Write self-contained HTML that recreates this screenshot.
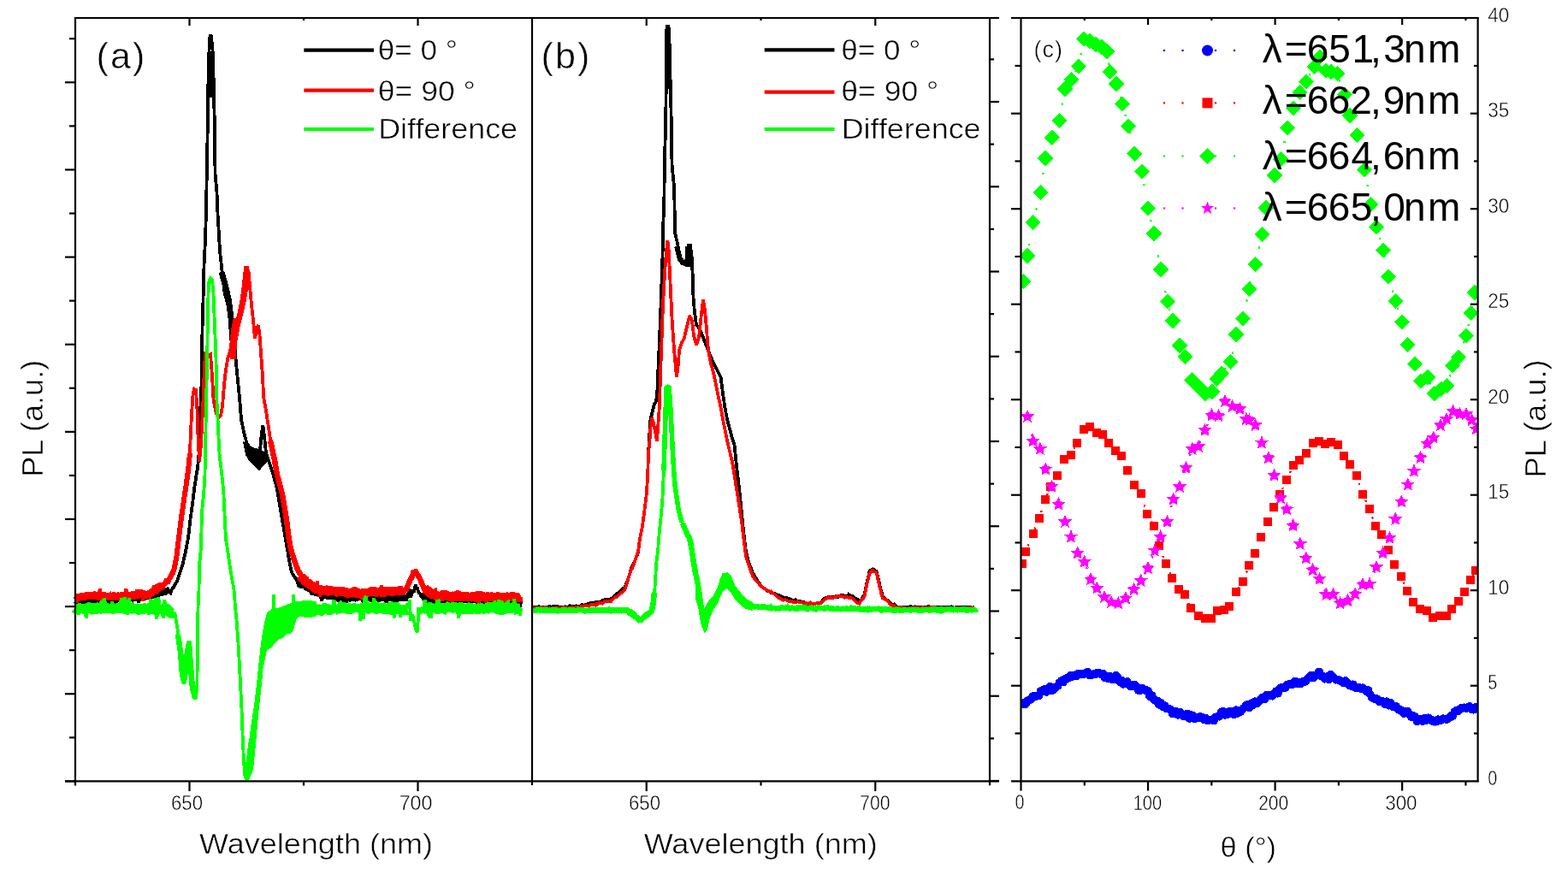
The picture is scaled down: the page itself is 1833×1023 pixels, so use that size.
<!DOCTYPE html>
<html><head><meta charset="utf-8"><title>PL spectra</title>
<style>html,body{margin:0;padding:0;background:#fff;overflow:hidden;} svg{display:block;}</style>
</head><body>
<svg width="1833" height="1023" viewBox="0 0 1833 1023">
<rect width="100%" height="100%" fill="#fff"/>
<defs><clipPath id="cc"><rect x="1194" y="21" width="533" height="892"/></clipPath></defs>
<g shape-rendering="crispEdges">
<polyline points="88.0,703.0 89.8,706.7 91.6,707.1 93.4,702.8 95.2,700.1 97.0,698.9 98.8,702.2 100.0,702.0 100.6,698.9 102.4,697.7 104.2,702.6 106.0,702.4 107.8,703.7 109.6,699.2 111.4,702.0 113.2,701.8 115.0,697.4 116.8,703.6 118.6,703.0 120.0,702.0 120.4,709.2 122.2,702.5 124.0,701.4 125.8,705.4 127.6,702.2 129.4,704.3 131.2,700.3 133.0,702.0 134.8,704.4 136.6,703.3 138.4,701.5 140.0,701.0 140.2,697.7 142.0,702.1 143.8,700.9 145.6,702.6 147.4,700.9 149.2,703.4 151.0,699.7 152.8,700.3 154.6,701.6 156.4,696.1 158.2,698.0 160.0,699.0 160.0,697.5 161.8,704.8 163.6,698.2 165.4,700.3 167.2,699.9 169.0,697.0 170.8,692.9 172.6,700.2 174.4,695.8 175.0,697.0 176.2,698.9 178.0,692.3 179.8,694.4 181.6,699.0 183.4,699.1 185.2,690.3 187.0,689.8 188.8,693.2 190.0,693.0 190.6,695.0 192.4,692.8 194.2,692.7 196.0,688.2 197.8,692.4 199.6,693.5 200.0,690.0 201.4,688.2 203.2,685.6 203.5,686.0 205.0,682.6 206.8,679.8 208.0,677.0 208.6,674.2 210.4,669.7 212.2,663.9 213.0,662.0 214.0,657.7 215.8,650.0 217.0,645.0 217.6,641.6 219.4,632.1 220.5,625.0 221.2,618.9 222.5,607.0 223.0,604.1 224.8,590.1 225.5,585.0 226.6,575.9 228.0,565.0 228.4,562.9 230.2,551.0 231.0,548.0 232.0,536.5 233.0,525.0 233.8,505.1 234.0,500.0 234.5,470.0 235.5,450.0 235.6,443.3 236.0,420.0 236.5,385.0 237.4,353.8 237.5,350.0 238.5,310.0 239.2,295.7 240.0,280.0 241.0,245.0 241.0,243.6 242.0,190.0 242.8,145.9 243.0,135.0 243.5,90.0 244.5,59.0 244.6,56.8 245.5,42.0 246.4,41.7 247.0,42.0 248.2,55.5 248.5,59.0 249.5,85.0 250.0,110.0 250.0,110.7 251.0,150.0 251.5,203.0 251.8,206.4 253.5,225.0 253.6,227.5 254.5,250.0 255.4,265.2 256.0,275.0 257.0,294.0 257.2,294.8 259.0,312.0 259.0,312.7 260.8,327.6 261.0,330.0 262.6,342.2 263.0,345.0 264.4,349.0 266.0,355.0 266.2,355.0 268.0,359.8 269.8,365.5 270.0,365.0 271.6,373.4 272.0,375.0 273.0,390.0 273.4,393.7 274.5,405.0 275.2,414.2 276.0,425.0 277.0,434.4 278.0,445.0 278.8,453.0 280.0,465.0 280.6,472.2 282.0,490.0 282.4,492.4 284.2,500.3 285.0,505.0 286.0,508.8 287.8,515.7 288.0,517.0 289.6,519.8 291.4,524.2 292.0,525.0 293.2,526.0 295.0,527.6 296.0,528.0 296.8,529.1 298.6,529.9 300.0,530.0 300.4,528.9 302.2,528.6 304.0,527.0 304.0,526.0 305.8,507.2 306.0,505.0 307.5,497.0 307.6,498.9 309.0,510.0 309.4,513.9 311.0,530.0 311.2,530.3 312.5,534.0 313.0,535.7 314.8,541.2 316.0,545.0 316.6,546.7 318.4,551.3 319.6,555.0 320.2,557.9 322.0,564.6 322.5,566.0 323.8,572.1 325.0,578.0 325.6,581.8 327.4,592.8 327.5,593.0 329.2,603.8 330.0,608.0 331.0,613.9 332.8,624.2 333.0,625.0 334.6,634.9 335.4,640.0 336.4,645.2 338.0,655.0 338.2,655.7 340.0,665.2 340.7,668.0 341.8,670.6 343.6,673.5 345.0,676.0 345.4,674.7 347.2,679.1 349.0,685.0 350.8,685.9 352.6,681.5 353.0,684.0 354.4,684.6 356.2,681.2 358.0,683.1 359.8,688.0 361.6,688.4 363.4,692.1 365.0,690.0 365.2,693.9 367.0,693.3 368.8,695.5 370.6,690.6 372.4,689.5 374.2,695.2 376.0,702.5 377.8,696.2 379.6,692.4 380.0,696.0 381.4,696.9 383.2,700.6 385.0,693.4 386.8,699.1 388.6,695.0 390.4,700.9 392.2,699.6 394.0,698.3 395.8,703.6 397.6,696.5 399.4,695.9 400.0,698.0 401.2,703.7 403.0,695.5 404.8,704.9 406.6,698.2 408.4,695.3 410.2,698.5 412.0,699.0 413.8,699.3 415.6,698.2 417.4,702.1 419.2,691.9 420.0,699.0 421.0,697.3 422.8,698.2 424.6,704.5 426.4,693.0 428.2,698.0 430.0,695.5 431.8,697.0 433.6,700.9 435.4,700.2 437.2,703.4 439.0,697.2 440.0,699.0 440.8,699.8 442.6,702.5 444.4,701.7 446.2,698.0 448.0,702.4 449.8,696.2 451.6,704.5 453.4,699.5 455.2,698.7 457.0,699.8 458.8,701.6 460.0,699.0 460.6,704.3 462.4,698.6 464.2,697.9 466.0,700.8 467.8,696.4 469.6,693.9 471.4,701.5 473.2,697.9 475.0,699.0 475.0,702.4 476.8,695.2 478.6,688.8 480.0,697.0 480.4,696.9 482.2,692.3 483.0,690.0 484.0,692.3 485.8,683.0 485.8,684.6 487.6,688.0 488.0,688.0 489.4,692.9 491.2,694.1 492.0,697.0 493.0,697.7 494.8,694.3 496.6,700.9 498.4,697.8 500.0,701.0 500.2,699.7 502.0,703.1 503.8,703.8 505.6,698.0 507.4,707.1 509.2,699.2 511.0,703.5 512.8,703.9 514.6,701.7 516.4,701.5 518.2,706.4 520.0,701.0 520.0,703.7 521.8,702.3 523.6,695.5 525.4,698.7 527.2,704.5 529.0,701.6 530.8,698.1 532.6,699.1 534.4,700.1 536.2,703.1 538.0,702.2 539.8,704.0 540.0,701.0 541.6,698.5 543.4,704.0 545.2,699.5 547.0,700.1 548.8,706.2 550.6,701.2 552.4,700.6 554.2,700.4 556.0,699.8 557.8,705.7 559.6,705.2 560.0,701.0 561.4,703.2 563.2,701.7 565.0,704.4 566.8,701.1 568.6,702.8 570.4,702.7 572.2,701.9 574.0,706.7 575.8,707.1 577.6,705.9 579.4,696.2 580.0,702.0 581.2,707.6 583.0,704.1 584.8,700.6 586.6,701.9 588.4,705.4 590.2,705.6 592.0,704.6 593.8,702.4 595.6,702.1 597.4,704.5 599.2,701.7 600.0,702.0 601.0,699.4 602.8,700.4 604.6,702.1 606.4,703.7 608.2,709.8 609.0,703.0" fill="none" stroke="#000000" stroke-width="3.8" stroke-linejoin="miter" stroke-miterlimit="2"/>
<polyline points="88.0,702.0 89.8,703.4 91.6,703.1 93.4,702.5 95.2,701.5 97.0,703.1 98.8,703.0 100.6,702.0 102.4,702.0 104.2,701.2 106.0,700.5 107.8,701.6 109.6,702.3 111.4,700.7 113.2,702.9 115.0,701.2 116.8,701.2 118.6,700.6 120.4,703.5 122.2,702.6 124.0,702.9 125.8,702.1 127.6,700.2 129.4,701.0 131.2,701.4 133.0,700.2 134.8,702.6 136.6,700.8 138.4,700.0 140.2,701.9 142.0,699.7 143.8,701.9 145.6,700.3 147.4,700.4 149.2,699.6 151.0,699.9 152.8,698.8 154.6,698.2 156.4,700.5 158.2,698.4 160.0,699.8 161.8,697.9 163.6,699.9 165.4,699.5 167.2,698.8 169.0,698.6 170.8,697.8 172.6,698.0 174.4,695.9 176.2,696.6 178.0,697.2 179.8,694.8 181.6,696.5 183.4,695.9 185.2,694.0 187.0,693.4 188.8,693.2 190.6,692.5 192.4,693.8 194.2,691.4 196.0,689.8 197.8,689.4" fill="none" stroke="#000000" stroke-width="7" stroke-linejoin="bevel"/>
<polyline points="348.0,680.4 349.8,679.7 351.6,681.2 353.4,685.7 355.2,684.2 357.0,684.9 358.8,687.4 360.6,687.3 362.4,689.9 364.2,688.8 366.0,691.8 367.8,690.6 369.6,692.1 371.4,693.9 373.2,693.8 375.0,695.3 376.8,695.3 378.6,694.1 380.4,697.2 382.2,696.5 384.0,695.8 385.8,695.7 387.6,697.8 389.4,697.2 391.2,698.4 393.0,698.1 394.8,698.9 396.6,697.9 398.4,698.4 400.2,698.3 402.0,697.4 403.8,699.6 405.6,697.7 407.4,699.2 409.2,699.8 411.0,699.0 412.8,697.6 414.6,699.7 416.4,699.3 418.2,698.0 420.0,697.6 421.8,699.1 423.6,697.6 425.4,700.3 427.2,699.0 429.0,699.1 430.8,698.7 432.6,699.5 434.4,700.2 436.2,698.4 438.0,698.6 439.8,699.2 441.6,698.4 443.4,699.3 445.2,699.1 447.0,698.8 448.8,699.5 450.6,699.1 452.4,697.8 454.2,700.5 456.0,698.6 457.8,698.8 459.6,698.7 461.4,700.3 463.2,700.4 465.0,699.0 466.8,698.7 468.6,697.8 470.4,700.2 472.2,698.0 474.0,699.1 475.8,698.2" fill="none" stroke="#000000" stroke-width="8" stroke-linejoin="bevel"/>
<polyline points="494.0,698.1 495.8,698.4 497.6,700.8 499.4,700.1 501.2,701.0 503.0,700.5 504.8,700.7 506.6,702.4 508.4,699.8 510.2,700.8 512.0,700.2 513.8,700.5 515.6,702.5 517.4,700.5 519.2,701.3 521.0,700.8 522.8,701.7 524.6,700.8 526.4,700.0 528.2,700.8 530.0,700.7 531.8,701.9 533.6,701.2 535.4,700.1 537.2,701.5 539.0,700.4 540.8,701.0 542.6,700.2 544.4,700.7 546.2,701.9 548.0,701.0 549.8,701.8 551.6,701.8 553.4,701.3 555.2,701.4 557.0,700.7 558.8,701.4 560.6,701.9 562.4,699.9 564.2,702.5 566.0,700.9 567.8,700.3 569.6,700.4 571.4,701.1 573.2,700.4 575.0,701.4 576.8,701.6 578.6,702.4 580.4,701.9 582.2,703.3 584.0,702.5 585.8,701.5 587.6,703.1 589.4,702.6 591.2,703.4 593.0,702.7 594.8,703.4 596.6,701.1 598.4,701.3 600.2,703.4 602.0,700.8 603.8,703.7 605.6,703.9 607.4,701.7" fill="none" stroke="#000000" stroke-width="8" stroke-linejoin="bevel"/>
<polyline points="246.5,60.0 246.5,114.0" fill="none" stroke="#000000" stroke-width="8" stroke-linejoin="round" stroke-linecap="butt"/>
<polyline points="259.0,318.0 264.0,336.0 267.5,352.0 270.0,372.0 272.0,398.0" fill="none" stroke="#000000" stroke-width="7" stroke-linejoin="round" stroke-linecap="butt"/>
<polygon points="284,516 290,520 298,524 304,525 309,528 313,540 307,545 303,551 298,546 292,540 287,532" fill="#000"/>
<polyline points="88.0,698.0 89.8,705.0 91.6,695.9 93.4,699.0 95.2,698.2 97.0,700.2 98.8,693.4 100.6,696.4 102.4,695.3 104.2,694.2 106.0,694.9 107.8,695.8 109.6,696.5 111.4,694.5 113.2,698.5 115.0,695.5 116.8,688.3 118.6,700.6 120.0,697.0 120.4,695.8 122.2,694.8 124.0,697.8 125.8,697.7 127.6,697.2 129.4,694.4 131.2,697.6 133.0,692.3 134.8,701.4 136.6,693.2 138.4,696.4 140.2,697.1 142.0,697.7 143.8,696.3 145.6,698.5 147.4,688.2 149.2,696.3 150.0,697.0 151.0,696.0 152.8,695.1 154.6,700.9 156.4,693.1 158.2,695.7 160.0,689.6 161.8,696.5 163.6,690.6 165.4,690.6 167.2,702.4 169.0,697.2 170.8,694.9 172.6,695.3 174.4,690.3 175.0,695.0 176.2,690.5 178.0,693.7 179.8,684.6 181.6,690.6 183.4,683.1 185.2,687.5 187.0,682.4 188.8,689.9 190.0,684.0 190.6,686.5 192.4,681.3 194.2,676.6 196.0,679.5 197.0,682.0 197.8,679.8 199.6,673.4 201.4,673.3 203.2,670.1 204.0,668.0 205.0,661.9 206.8,650.9 207.0,650.0 208.6,636.6 210.4,620.6 210.5,620.0 212.2,602.6 212.5,599.0 214.0,592.2 215.5,586.0 215.8,584.4 217.6,569.0 218.0,566.0 219.4,557.4 221.0,549.0 221.2,545.0 222.0,529.0 223.0,505.0 223.0,504.6 224.5,477.0 224.8,471.8 225.6,460.0 226.6,456.3 227.0,455.0 228.4,456.0 229.0,456.0 230.2,473.9 230.5,480.0 231.5,510.0 232.0,519.9 233.0,540.0 233.8,531.8 235.0,520.0 235.6,507.8 237.0,480.0 237.4,469.7 238.5,440.0 239.2,425.7 240.0,411.0 241.0,412.6 242.8,414.5 243.0,415.0 244.6,414.5 246.0,414.0 246.4,419.0 248.0,440.0 248.2,443.3 249.5,467.0 250.0,469.2 251.8,479.1 252.0,480.0 253.6,485.4 255.0,488.0 255.4,488.3 257.2,486.9 258.0,486.0 259.0,480.8 260.0,475.0 260.8,464.7 262.0,450.0 262.6,444.9 264.0,432.0 264.4,430.7 266.0,420.0 266.2,418.6 268.0,414.0 268.0,414.4 269.8,406.4 270.0,405.0 271.6,389.1 272.0,385.0 273.4,378.6 274.7,372.0 275.2,375.0 276.0,378.0 277.0,378.0 278.5,375.0 278.8,373.9 280.6,363.3 281.0,360.0 282.4,351.7 283.0,348.0 284.2,337.6 285.0,330.0 286.0,321.6 287.0,313.0 287.8,313.1 289.0,313.0 289.6,314.8 291.0,320.0 291.4,325.7 292.5,340.0 293.2,348.2 294.0,356.0 295.0,365.4 296.0,375.0 296.8,383.5 298.0,396.0 298.6,393.0 300.0,385.0 300.4,384.0 302.0,380.0 302.2,382.1 303.5,392.0 304.0,398.8 305.0,412.0 305.8,422.5 307.0,440.0 307.6,453.2 308.0,463.0 309.4,471.3 311.0,480.0 311.2,481.6 313.0,493.7 314.5,503.0 314.8,505.2 316.6,517.4 317.0,520.0 318.4,525.4 320.2,535.2 321.0,538.0 322.0,543.1 323.8,554.4 324.0,555.0 325.6,560.2 327.0,566.0 327.4,567.2 329.2,574.9 330.0,578.0 331.0,583.4 332.8,593.5 333.0,595.0 334.6,606.4 335.5,612.0 336.4,619.6 337.5,628.0 338.2,632.1 340.0,642.0 340.0,641.8 341.8,647.4 343.6,653.4 344.0,655.0 345.4,657.2 347.2,663.6 348.0,666.0 349.0,669.9 350.8,670.1 352.6,671.2 354.0,676.0 354.4,674.4 356.2,682.0 358.0,680.4 359.8,682.5 361.6,684.4 362.0,684.0 363.4,686.5 365.2,686.0 367.0,690.0 368.8,689.8 370.0,688.0 370.6,679.5 372.4,688.0 374.2,697.6 376.0,685.2 377.8,689.8 379.6,693.0 381.0,690.0 381.4,690.0 383.2,694.3 385.0,686.6 386.8,686.8 388.6,690.2 390.4,688.7 392.2,687.9 394.0,693.1 395.8,692.4 397.6,691.8 399.4,690.7 400.0,692.0 401.2,692.9 403.0,691.8 404.8,690.0 406.6,693.9 408.4,693.5 410.2,692.8 412.0,694.7 413.8,689.3 415.6,692.3 417.4,691.3 419.2,697.0 420.0,693.0 421.0,694.5 422.8,699.3 424.6,697.5 426.4,691.6 428.2,689.3 430.0,694.0 431.8,691.6 433.6,691.8 435.4,689.0 437.2,694.0 439.0,692.6 440.0,692.0 440.8,693.2 442.6,692.8 444.4,689.0 446.2,684.9 448.0,690.8 449.8,689.6 451.6,689.8 453.4,694.2 455.2,690.9 457.0,695.7 458.8,691.6 460.0,691.0 460.6,693.1 462.4,692.5 464.2,693.4 466.0,687.2 467.8,694.3 469.6,691.3 471.4,688.0 472.0,691.0 473.2,691.4 475.0,688.3 476.0,686.0 476.8,687.9 478.6,681.7 480.0,676.0 480.4,676.3 482.2,666.9 484.0,673.5 485.8,665.0 485.8,669.5 487.6,671.6 489.4,675.0 490.0,675.0 491.2,681.3 493.0,679.0 494.8,687.7 495.0,686.0 496.6,688.0 498.4,687.0 500.0,692.0 500.2,693.2 502.0,694.3 503.8,699.4 505.0,695.0 505.6,697.9 507.4,690.5 509.2,689.6 511.0,695.6 512.8,695.4 514.6,693.4 516.4,692.1 518.2,696.2 520.0,697.0 520.0,693.5 521.8,694.9 523.6,699.6 525.4,697.7 527.2,694.7 529.0,693.6 530.8,696.4 532.6,702.2 534.4,695.5 536.2,702.2 538.0,694.6 539.8,696.4 540.0,697.0 541.6,699.2 543.4,694.8 545.2,697.4 547.0,693.3 548.8,699.4 550.6,701.0 552.4,695.7 554.2,698.3 556.0,696.6 557.8,691.4 559.6,706.3 560.0,698.0 561.4,699.9 563.2,700.5 565.0,699.2 566.8,698.5 568.6,705.2 570.4,692.5 572.2,697.1 574.0,696.7 575.8,697.4 577.6,700.1 579.4,695.8 580.0,698.0 581.2,694.0 583.0,694.6 584.8,699.4 586.6,700.9 588.4,700.4 590.2,702.8 592.0,696.4 593.8,701.0 595.6,700.1 597.4,697.5 599.2,695.7 600.0,698.0 601.0,700.7 602.8,695.9 604.6,697.1 606.4,695.1 608.2,703.3 609.0,698.0" fill="none" stroke="#ff0000" stroke-width="3.8" stroke-linejoin="miter" stroke-miterlimit="2"/>
<polyline points="88.0,699.4 89.8,699.4 91.6,699.1 93.4,696.5 95.2,698.1 97.0,697.5 98.8,697.8 100.6,696.4 102.4,696.6 104.2,697.3 106.0,696.5 107.8,697.2 109.6,695.8 111.4,695.9 113.2,697.9 115.0,696.9 116.8,697.1 118.6,697.8 120.4,696.5 122.2,695.6 124.0,697.9 125.8,697.3 127.6,697.5 129.4,697.4 131.2,698.5 133.0,696.6 134.8,697.8 136.6,696.6 138.4,697.2 140.2,697.5 142.0,696.4 143.8,695.7 145.6,696.9 147.4,697.7 149.2,697.3 151.0,696.8 152.8,697.2 154.6,695.6 156.4,695.5 158.2,695.8 160.0,697.2 161.8,695.1 163.6,694.7 165.4,694.5 167.2,694.1 169.0,694.8 170.8,695.6 172.6,696.2 174.4,694.5 176.2,693.7 178.0,692.1 179.8,690.9 181.6,691.0 183.4,689.0 185.2,686.7 187.0,684.9 188.8,685.8 190.6,684.5" fill="none" stroke="#ff0000" stroke-width="9" stroke-linejoin="bevel"/>
<polyline points="352.0,673.3 353.8,676.8 355.6,676.6 357.4,681.0 359.2,680.2 361.0,683.5 362.8,683.1 364.6,686.1 366.4,685.1 368.2,687.8 370.0,688.7 371.8,689.2 373.6,688.5 375.4,690.2 377.2,690.9 379.0,688.4 380.8,690.0 382.6,691.6 384.4,691.1 386.2,690.4 388.0,690.1 389.8,692.4 391.6,689.8 393.4,692.1 395.2,692.6 397.0,690.6 398.8,691.3 400.6,691.4 402.4,692.3 404.2,691.8 406.0,693.6 407.8,693.7 409.6,691.9 411.4,693.8 413.2,691.3 415.0,691.5 416.8,693.4 418.6,693.9 420.4,694.0 422.2,694.5 424.0,694.0 425.8,692.0 427.6,693.4 429.4,693.9 431.2,691.1 433.0,692.3 434.8,691.2 436.6,691.0 438.4,692.0 440.2,692.5 442.0,693.4 443.8,690.6 445.6,691.7 447.4,693.2 449.2,692.4 451.0,691.6 452.8,690.5 454.6,691.7 456.4,690.4 458.2,691.6 460.0,691.5 461.8,690.7 463.6,691.9 465.4,690.7 467.2,690.9 469.0,692.1 470.8,690.2 472.6,689.2" fill="none" stroke="#ff0000" stroke-width="11" stroke-linejoin="bevel"/>
<polyline points="497.0,688.5 498.8,689.9 500.6,690.9 502.4,693.9 504.2,693.6 506.0,694.4 507.8,695.0 509.6,696.1 511.4,697.4 513.2,696.0 515.0,697.9 516.8,698.1 518.6,696.0 520.4,695.6 522.2,695.9 524.0,698.1 525.8,697.3 527.6,698.3 529.4,698.5 531.2,697.5 533.0,697.1 534.8,695.6 536.6,695.5 538.4,698.0 540.2,697.6 542.0,697.9 543.8,697.4 545.6,697.8 547.4,697.8 549.2,698.7 551.0,696.3 552.8,697.6 554.6,697.1 556.4,698.9 558.2,699.1 560.0,697.2 561.8,696.7 563.6,697.2 565.4,697.4 567.2,698.9 569.0,697.7 570.8,698.8 572.6,697.4 574.4,698.1 576.2,697.0 578.0,698.5 579.8,698.0 581.6,699.2 583.4,699.4 585.2,698.1 587.0,696.6 588.8,699.4 590.6,699.4 592.4,697.9 594.2,698.0 596.0,699.4 597.8,697.2 599.6,697.2 601.4,698.6 603.2,698.6 605.0,698.6 606.8,699.0 608.6,698.0" fill="none" stroke="#ff0000" stroke-width="11" stroke-linejoin="bevel"/>
<polyline points="474.0,691.0 480.0,677.0 485.8,668.0 491.0,677.0 497.0,691.0" fill="none" stroke="#ff0000" stroke-width="6.5" stroke-linejoin="round" stroke-linecap="butt"/>
<polyline points="287.5,318.0 287.0,335.0 284.5,350.0 281.0,366.0 277.0,382.0 274.0,398.0 272.0,420.0" fill="none" stroke="#ff0000" stroke-width="7" stroke-linejoin="round" stroke-linecap="butt"/>
<polyline points="191.0,684.0 198.5,676.0 203.5,666.0 206.5,650.0 209.5,625.0 212.0,605.0 214.5,588.0 217.5,568.0 220.0,550.0 222.0,530.0" fill="none" stroke="#ff0000" stroke-width="6" stroke-linejoin="round" stroke-linecap="butt"/>
<polyline points="316.0,515.0 321.0,538.0 324.0,555.0 327.0,566.0 330.0,578.0 333.0,595.0 335.5,612.0 337.5,628.0 340.0,642.0 344.0,655.0 348.0,666.0 354.0,676.0" fill="none" stroke="#ff0000" stroke-width="6.5" stroke-linejoin="round" stroke-linecap="butt"/>
<polyline points="208.0,742.0 211.0,762.0 213.0,788.0 215.0,797.0 217.0,782.0 219.0,762.0 221.0,752.0 223.0,780.0 225.0,805.0 228.0,815.0" fill="none" stroke="#00ff00" stroke-width="6.5" stroke-linejoin="round" stroke-linecap="butt"/>
<polyline points="88.0,711.0 89.8,711.6 91.6,718.6 93.4,705.4 95.2,717.0 97.0,709.4 98.8,709.4 100.6,722.5 102.4,712.0 104.2,710.7 106.0,715.4 107.8,717.8 109.6,710.8 111.4,714.6 113.2,705.1 115.0,708.8 116.8,708.3 118.6,702.9 120.0,711.0 120.4,701.9 122.2,701.2 124.0,709.7 125.8,710.2 127.6,709.3 129.4,711.7 131.2,703.3 133.0,711.0 134.8,712.9 136.6,716.1 138.4,706.5 140.2,709.3 142.0,699.5 143.8,708.7 145.6,698.6 147.4,703.3 149.2,718.6 150.0,712.0 151.0,698.7 152.8,716.8 154.6,714.0 156.4,710.1 158.2,714.8 160.0,715.2 161.8,718.3 163.6,710.6 165.4,708.4 167.2,708.3 169.0,706.0 170.8,711.7 172.6,707.2 174.4,718.5 176.2,700.7 178.0,705.4 179.8,706.2 180.0,712.0 181.6,699.4 183.4,723.7 185.2,697.8 187.0,710.8 188.8,709.4 190.6,722.7 192.4,700.8 194.2,719.4 195.0,713.0 196.0,709.1 197.8,713.5 199.6,711.3 201.4,716.7 203.2,716.6 204.6,718.0 205.0,720.3 206.8,731.1 208.0,738.0 208.6,743.4 210.4,754.3 211.0,760.0 212.2,775.8 213.0,785.0 214.0,792.0 215.0,798.0 215.8,790.5 217.0,780.0 217.6,774.2 219.0,760.0 219.4,755.7 220.0,750.0 221.2,765.9 222.0,775.0 223.0,787.6 224.0,800.0 224.8,805.9 226.0,815.0 226.6,815.3 228.4,816.5 229.0,817.0 230.2,803.3 230.5,800.0 231.0,740.0 231.5,710.0 232.0,699.5 232.5,690.0 233.0,660.0 233.8,653.1 235.0,640.0 235.6,614.9 236.0,600.0 237.4,584.4 238.0,580.0 239.2,559.9 239.5,555.0 240.5,500.0 241.0,474.9 241.5,450.0 242.5,400.0 242.8,376.2 243.0,360.0 244.0,330.0 244.6,328.4 246.0,325.0 246.4,325.3 248.0,327.0 248.2,329.3 249.5,343.0 250.0,355.9 251.0,380.0 251.8,401.1 252.5,420.0 253.5,470.0 253.6,471.8 255.0,500.0 255.4,509.1 256.5,530.0 257.2,536.6 258.5,548.0 259.0,551.9 260.8,569.5 261.0,570.0 262.5,600.0 262.6,602.4 264.0,630.0 264.4,632.3 266.2,644.0 267.0,650.0 268.0,656.8 269.8,668.2 270.0,670.0 271.6,678.6 273.4,688.7 273.5,690.0 275.0,710.0 275.2,711.7 277.0,730.0 277.0,730.6 278.8,756.8 279.0,760.0 280.5,790.0 280.6,791.2 282.4,828.4 282.5,830.0 284.0,870.0 284.2,873.5 286.0,905.0 286.0,905.5 287.5,910.0 287.8,907.7 289.0,895.0 289.6,889.9 291.4,874.9 292.0,870.0 293.2,864.0 295.0,855.0 295.0,854.4 296.8,846.4 298.0,840.0 298.6,843.0 300.4,828.8 302.0,820.0 302.2,817.0 304.0,798.9 305.0,790.0 305.8,778.6 307.0,770.0 307.6,762.5 309.4,752.2 310.0,750.0 311.2,743.4 313.0,740.9 314.8,731.5 315.0,738.0 316.6,737.3 318.4,733.4 320.2,725.5 322.0,728.0 322.0,717.9 323.8,726.2 325.6,729.3 327.4,719.4 329.2,718.7 330.0,720.0 331.0,717.1 332.8,721.8 334.6,714.1 336.4,721.8 338.2,715.4 340.0,716.0 340.0,720.1 341.8,715.6 343.6,713.9 345.4,707.9 347.2,710.8 349.0,712.2 350.0,713.0 350.8,715.9 352.6,714.4 354.4,708.6 356.2,715.3 358.0,718.7 359.8,711.8 361.6,710.0 363.4,710.2 365.2,717.4 367.0,715.7 368.8,706.7 370.6,714.6 372.4,709.3 374.2,707.6 376.0,719.6 377.8,717.0 379.6,707.6 380.0,712.0 381.4,712.4 383.2,715.0 385.0,708.0 386.8,711.1 388.6,715.8 390.4,700.9 392.2,713.7 394.0,716.1 395.8,714.7 397.6,703.4 399.4,713.4 401.2,706.2 403.0,714.9 404.8,715.0 406.6,712.6 408.4,706.7 410.2,707.7 412.0,716.4 413.8,705.7 415.6,714.1 417.4,714.2 419.2,709.3 420.0,711.0 421.0,725.5 422.8,711.4 424.6,724.0 426.4,698.8 428.2,697.4 430.0,716.9 431.8,714.8 433.6,709.1 435.4,710.7 437.2,699.5 439.0,707.2 440.8,704.7 442.6,709.7 444.4,716.4 446.2,711.3 448.0,713.2 449.8,706.8 451.6,708.4 453.4,711.7 455.2,709.3 457.0,718.7 458.8,705.7 460.0,711.0 460.6,722.5 462.4,705.2 464.2,717.6 466.0,706.7 467.8,721.4 469.6,712.4 471.4,714.0 473.2,716.2 475.0,708.0 476.8,705.6 478.0,712.0 478.6,701.2 480.4,725.4 482.0,722.0 482.2,718.5 484.0,725.3 485.8,735.0 485.8,734.8 487.6,739.7 489.0,722.0 489.4,710.5 491.2,718.0 493.0,712.0 493.0,709.6 494.8,715.2 496.6,701.0 498.4,709.4 500.2,716.8 502.0,721.1 503.8,721.3 505.6,706.4 507.4,711.8 509.2,710.7 511.0,703.0 512.8,702.6 514.6,715.8 516.4,712.6 518.2,710.2 520.0,711.0 520.0,718.4 521.8,704.9 523.6,714.2 525.4,711.1 527.2,710.6 529.0,714.0 530.8,712.1 532.6,712.6 534.4,712.6 536.2,722.7 538.0,709.1 539.8,717.1 541.6,714.7 543.4,708.9 545.2,715.8 547.0,705.8 548.8,718.0 550.6,706.1 552.4,708.0 554.2,713.0 556.0,716.0 557.8,716.5 559.6,716.4 560.0,711.0 561.4,709.7 563.2,705.2 565.0,714.3 566.8,712.8 568.6,705.2 570.4,716.9 572.2,712.2 574.0,705.2 575.8,713.7 577.6,703.0 579.4,705.7 581.2,713.4 583.0,701.6 584.8,711.2 586.6,702.8 588.4,715.5 590.2,706.6 592.0,712.1 593.8,701.9 595.6,708.9 597.4,716.7 599.2,713.8 601.0,699.9 602.8,716.6 604.6,716.4 606.4,708.7 608.2,719.6 609.0,711.0" fill="none" stroke="#00ff00" stroke-width="3.8" stroke-linejoin="miter" stroke-miterlimit="2"/>
<polyline points="88.0,710.6 89.8,712.5 91.6,712.2 93.4,710.0 95.2,712.3 97.0,711.5 98.8,709.4 100.6,712.6 102.4,710.1 104.2,710.3 106.0,710.7 107.8,711.3 109.6,709.6 111.4,711.7 113.2,712.2 115.0,711.0 116.8,712.1 118.6,711.4 120.4,712.2 122.2,709.9 124.0,710.6 125.8,711.1 127.6,709.8 129.4,713.0 131.2,711.9 133.0,710.0 134.8,711.8 136.6,711.2 138.4,710.5 140.2,710.5 142.0,711.6 143.8,710.2 145.6,712.1 147.4,712.0 149.2,710.6 151.0,713.4 152.8,710.3 154.6,710.8 156.4,713.1 158.2,711.0 160.0,711.7 161.8,712.2 163.6,711.8 165.4,712.0 167.2,712.0 169.0,711.9 170.8,710.4 172.6,713.1 174.4,711.2 176.2,710.4 178.0,711.7 179.8,713.1 181.6,712.6 183.4,712.1 185.2,712.3 187.0,711.5 188.8,713.0 190.6,712.2 192.4,711.3 194.2,711.6 196.0,712.1 197.8,715.1 199.6,716.8 201.4,717.3 203.2,716.3" fill="none" stroke="#00ff00" stroke-width="12" stroke-linejoin="bevel"/>
<polyline points="345.0,715.4 346.8,712.9 348.6,712.4 350.4,713.3 352.2,711.3 354.0,713.9 355.8,713.8 357.6,711.1 359.4,713.3 361.2,712.6 363.0,713.1 364.8,714.1 366.6,714.2 368.4,712.1 370.2,713.6 372.0,713.3 373.8,713.9 375.6,710.5 377.4,713.7 379.2,711.0 381.0,710.6 382.8,712.3 384.6,713.1 386.4,713.5 388.2,711.3 390.0,712.9 391.8,710.0 393.6,713.3 395.4,710.9 397.2,711.7 399.0,710.2 400.8,709.8 402.6,709.7 404.4,711.8 406.2,711.6 408.0,712.4 409.8,712.5 411.6,710.9 413.4,712.4 415.2,710.0 417.0,712.4 418.8,710.1 420.6,712.6 422.4,710.6 424.2,710.7 426.0,711.1 427.8,709.4 429.6,709.5 431.4,711.2 433.2,711.8 435.0,709.4 436.8,710.7 438.6,710.5 440.4,712.0 442.2,712.8 444.0,709.5 445.8,711.2 447.6,709.6 449.4,712.0 451.2,712.6 453.0,711.7 454.8,711.3 456.6,709.3 458.4,709.5 460.2,710.1 462.0,709.6 463.8,709.9 465.6,713.0 467.4,710.9 469.2,713.0 471.0,712.6 472.8,712.7 474.6,713.3 476.4,712.6" fill="none" stroke="#00ff00" stroke-width="12" stroke-linejoin="bevel"/>
<polygon points="286,912 290,880 293,850 297,825 300,800 303,770 306,745 309,728 312,716 318,712 325,711 330,709 340,705 346,703 360,702 370,703 370,721 360,722 350,721 346.5,724 343,737 340,741 336,741 330,746 325,748 321,752 318,757 312,760 309,775 306,790 303,825 299,870 296,900 291,912" fill="#00ff00"/>
<polyline points="320.0,695.0 320.0,720.0" fill="none" stroke="#00ff00" stroke-width="3.8" stroke-linejoin="round" stroke-linecap="butt"/>
<polyline points="343.0,695.0 343.0,715.0" fill="none" stroke="#00ff00" stroke-width="3.8" stroke-linejoin="round" stroke-linecap="butt"/>
<polyline points="494.0,710.2 495.8,710.5 497.6,711.4 499.4,712.4 501.2,710.4 503.0,710.2 504.8,710.6 506.6,712.4 508.4,710.2 510.2,712.2 512.0,711.9 513.8,709.9 515.6,711.3 517.4,710.9 519.2,710.7 521.0,712.8 522.8,709.5 524.6,709.3 526.4,712.6 528.2,710.7 530.0,709.9 531.8,710.4 533.6,710.5 535.4,712.6 537.2,710.0 539.0,710.0 540.8,711.3 542.6,711.2 544.4,712.6 546.2,712.2 548.0,710.5 549.8,709.9 551.6,712.2 553.4,712.8 555.2,709.3 557.0,711.8 558.8,712.3 560.6,711.5 562.4,710.0 564.2,712.1 566.0,711.8 567.8,709.9 569.6,711.5 571.4,710.0 573.2,709.3 575.0,710.4 576.8,710.4 578.6,710.6 580.4,711.5 582.2,712.2 584.0,712.7 585.8,712.7 587.6,712.8 589.4,712.0 591.2,710.3 593.0,709.8 594.8,711.4 596.6,711.2 598.4,711.6 600.2,709.5 602.0,709.9 603.8,712.5 605.6,711.4 607.4,711.7" fill="none" stroke="#00ff00" stroke-width="12" stroke-linejoin="bevel"/>
<polyline points="623.0,709.6 625.4,709.6 627.8,709.8 630.2,709.3 632.6,709.7 635.0,710.0 637.4,709.7 639.8,710.4 642.2,709.0 644.6,709.5 647.0,709.1 649.4,709.0 651.8,709.3 654.2,709.6 656.6,709.6 659.0,709.7 660.0,709.4 661.4,710.6 663.8,709.7 666.2,708.2 668.6,709.0 671.0,708.5 673.4,708.4 675.8,709.2 678.2,708.3 680.0,708.3 680.6,707.1 683.0,707.7 685.4,706.8 687.8,705.7 690.2,705.2 692.6,704.8 695.0,704.5 697.0,704.0 697.4,703.7 699.8,703.4 702.2,703.8 704.6,701.8 707.0,701.3 709.4,701.1 711.8,701.3 714.2,699.7 714.7,700.0 716.6,699.2 719.0,695.7 721.4,693.9 722.0,694.0 723.8,692.4 726.2,689.9 728.6,687.9 730.0,687.0 731.0,685.0 733.4,679.7 734.0,678.0 735.8,672.0 738.0,664.6 738.2,664.0 740.6,659.3 742.0,656.0 743.0,653.6 745.4,647.4 746.0,646.0 747.8,631.9 748.0,630.0 750.2,618.8 751.0,615.0 752.6,603.0 753.0,600.0 755.0,584.1 755.5,580.0 757.0,560.0 757.4,548.0 758.0,530.0 759.5,505.0 759.8,500.4 760.5,490.0 762.2,483.3 763.0,480.0 764.6,473.5 765.0,472.0 767.0,469.9 767.0,470.0 768.5,455.0 769.0,440.0 769.4,431.8 770.0,420.0 771.0,397.0 771.8,375.7 772.0,370.0 773.0,345.0 774.2,308.9 774.5,300.0 775.0,272.0 776.4,230.0 776.6,215.6 777.0,186.0 778.0,150.0 778.5,120.0 779.0,80.1 779.0,80.0 779.5,50.0 780.2,31.0 781.4,30.9 781.5,31.0 782.5,45.0 783.2,80.0 783.8,98.9 784.0,105.0 784.7,140.0 785.5,192.0 786.2,199.4 787.7,215.0 788.5,237.0 788.6,244.0 789.0,272.0 791.0,280.4 792.0,285.0 793.4,292.0 795.0,300.0 795.8,301.5 798.0,305.0 798.2,305.4 800.6,309.6 801.0,310.0 803.0,300.3 803.0,300.0 804.5,287.0 805.4,287.1 807.0,287.0 807.8,293.9 808.6,300.0 809.6,320.0 810.2,338.3 810.5,348.0 812.0,365.0 812.6,369.4 814.0,380.0 815.0,380.7 817.4,384.4 818.0,385.0 819.8,389.2 821.0,392.0 822.2,395.6 824.0,400.0 824.6,401.4 827.0,407.1 828.0,410.0 829.4,413.6 831.8,418.8 833.0,422.0 834.2,424.1 836.6,429.2 838.0,432.0 839.0,434.1 841.4,438.5 842.6,441.0 843.8,450.5 845.0,460.0 846.2,467.7 847.5,477.0 848.6,483.1 850.0,490.0 851.0,493.8 853.4,502.9 855.0,509.0 855.8,511.6 858.2,519.1 858.5,520.0 860.6,541.0 861.0,545.0 863.0,561.5 864.0,570.0 865.4,584.0 867.0,600.0 867.8,607.8 870.0,629.0 870.2,630.8 872.0,645.0 872.6,647.4 875.0,657.0 875.0,657.0 877.4,663.3 879.8,669.6 880.0,670.0 882.2,673.7 884.6,677.6 886.0,680.0 887.0,681.1 889.4,684.2 891.8,686.8 892.0,687.0 894.2,688.4 896.6,690.5 899.0,691.6 900.0,692.0 901.4,693.0 903.8,693.6 906.2,693.9 908.6,696.0 911.0,696.2 912.8,697.0 913.4,697.2 915.8,698.4 918.2,699.1 920.6,699.4 923.0,700.0 925.4,701.8 927.8,701.7 930.0,702.0 930.2,701.5 932.6,702.9 935.0,703.1 937.4,703.5 939.8,704.3 942.2,704.6 944.6,706.0 947.0,705.5 949.4,706.0 950.0,706.0 951.8,706.5 954.2,705.3 956.6,705.9 959.0,705.0 959.7,705.0 961.4,702.7 962.0,701.0 963.8,699.6 966.0,699.0 966.2,699.2 968.6,697.6 971.0,697.8 973.4,697.7 975.8,697.5 977.0,697.0 978.2,698.0 980.6,697.8 983.0,695.9 985.0,696.5 985.4,696.1 987.8,697.0 990.2,696.4 992.5,696.0 992.6,695.3 995.0,697.0 996.0,697.0 997.4,697.4 999.8,699.4 1000.0,700.0 1002.2,700.6 1004.6,702.6 1005.0,703.0 1007.0,701.4 1009.4,696.9 1010.6,695.0 1011.8,688.9 1014.0,678.0 1014.2,678.5 1016.4,668.0 1016.6,667.6 1019.0,666.3 1020.5,665.5 1021.4,665.9 1023.8,667.7 1024.6,668.0 1026.2,674.4 1028.0,682.0 1028.6,685.2 1031.0,694.0 1031.7,697.0 1033.4,698.9 1035.0,700.0 1035.8,700.8 1038.2,702.3 1040.6,704.3 1042.0,706.0 1043.0,706.5 1045.4,706.4 1047.8,708.9 1049.0,709.5 1050.2,709.6 1052.6,709.7 1055.0,709.6 1057.4,709.9 1059.8,709.6 1062.2,710.2 1064.6,709.0 1067.0,710.4 1069.4,709.5 1070.0,710.0 1071.8,710.3 1074.2,709.7 1076.6,709.8 1079.0,709.6 1081.4,710.7 1083.8,709.4 1086.2,709.3 1088.6,710.1 1091.0,710.1 1093.4,710.0 1095.8,709.5 1098.2,709.6 1100.0,710.0 1100.6,710.5 1103.0,709.4 1105.4,710.3 1107.8,710.4 1110.2,710.1 1112.6,709.3 1115.0,711.0 1117.4,710.1 1119.8,710.1 1122.2,709.8 1124.6,709.5 1127.0,709.9 1129.4,710.1 1131.8,709.5 1134.2,710.1 1136.6,710.6 1139.0,710.0" fill="none" stroke="#000000" stroke-width="3.8" stroke-linejoin="miter" stroke-miterlimit="2"/>
<polyline points="780.6,34.0 780.6,104.0" fill="none" stroke="#000000" stroke-width="6.5" stroke-linejoin="round" stroke-linecap="butt"/>
<polyline points="791.0,288.0 795.0,303.0 799.5,309.0" fill="none" stroke="#000000" stroke-width="6" stroke-linejoin="round" stroke-linecap="butt"/>
<polyline points="805.0,288.0 805.0,312.0" fill="none" stroke="#000000" stroke-width="8" stroke-linejoin="round" stroke-linecap="butt"/>
<polyline points="623.0,711.3 625.4,710.6 627.8,710.6 630.2,711.6 632.6,710.0 635.0,711.1 637.4,709.9 639.8,711.8 642.2,711.3 644.6,711.9 647.0,710.8 649.4,711.3 651.8,710.9 654.2,710.6 656.6,711.1 659.0,710.3 660.0,711.0 661.4,710.7 663.8,711.1 666.2,710.5 668.6,710.1 671.0,711.3 673.4,709.9 675.8,709.4 678.0,709.5 678.2,709.6 680.6,708.7 683.0,708.4 685.4,707.9 687.8,708.8 690.2,707.3 692.6,706.9 695.0,706.7 697.0,706.0 697.4,707.0 699.8,705.2 702.2,704.5 704.6,705.6 707.0,702.9 709.4,703.0 711.8,703.0 714.2,703.4 714.7,702.0 716.6,700.2 719.0,697.7 721.4,697.8 722.0,697.0 723.8,695.1 726.2,693.1 728.6,691.5 730.0,690.0 731.0,687.1 733.4,680.0 734.0,678.0 735.8,672.4 738.0,666.0 738.2,666.3 740.6,660.5 742.0,657.0 743.0,654.0 745.4,646.7 746.0,645.0 747.8,631.7 748.0,630.0 750.2,619.1 751.0,615.0 752.6,602.8 753.0,600.0 755.0,583.9 755.5,580.0 757.0,560.0 757.4,548.2 758.0,530.0 759.5,515.0 759.8,510.5 760.5,500.0 762.0,488.0 762.2,488.6 764.0,495.0 764.6,498.0 766.0,505.0 767.0,510.5 768.0,516.0 769.4,496.4 769.5,495.0 771.0,473.0 771.8,446.2 772.0,440.0 773.0,410.0 774.2,380.4 774.2,380.0 775.0,355.0 776.0,340.0 776.6,328.0 777.0,320.0 778.5,300.0 779.0,294.5 780.3,281.0 781.4,289.5 781.5,290.0 782.8,314.0 783.8,335.7 784.0,340.0 785.5,372.0 786.2,382.7 787.0,395.0 788.6,415.2 789.0,420.0 791.0,440.5 791.0,440.0 792.5,430.0 793.4,418.1 794.0,410.0 795.8,404.3 797.0,400.0 798.2,398.5 800.0,395.0 800.6,392.2 803.0,382.0 803.5,380.0 805.4,371.8 806.0,369.0 807.8,372.2 809.0,375.0 810.2,385.1 811.0,392.0 812.6,398.2 814.0,403.0 815.0,400.6 817.0,395.0 817.4,391.3 819.4,372.0 819.8,368.2 822.0,350.0 822.2,351.8 824.3,365.0 824.6,368.7 826.0,385.0 827.0,397.7 828.0,410.0 829.4,417.1 831.0,425.0 831.8,427.6 834.0,436.0 834.2,436.6 836.6,448.1 838.0,455.0 839.0,460.2 841.4,471.1 842.6,477.0 843.8,483.3 846.0,495.0 846.2,495.9 848.6,508.1 850.0,515.0 851.0,519.3 853.4,529.2 855.8,538.9 856.0,540.0 858.2,553.1 860.6,568.8 860.8,570.0 863.0,583.8 864.0,590.0 865.4,599.6 867.0,610.0 867.8,616.6 869.4,630.0 870.2,636.0 872.0,650.0 872.6,652.1 875.0,659.7 875.0,660.0 877.4,666.5 879.8,673.2 880.0,674.0 882.2,676.6 884.6,679.8 886.0,681.0 887.0,682.3 889.4,685.0 890.5,686.0 891.8,686.9 894.2,688.4 896.6,689.8 899.0,691.3 900.0,692.0 901.4,691.5 903.8,693.7 906.2,695.2 908.6,697.8 911.0,699.2 912.8,700.0 913.4,700.8 915.8,701.6 918.2,701.1 920.6,702.4 923.0,703.4 925.4,702.9 927.8,704.1 930.0,704.0 930.2,703.9 932.6,703.4 935.0,704.6 937.4,704.3 939.8,705.0 942.2,705.0 944.6,705.6 947.0,704.5 949.4,707.1 950.0,706.0 951.8,706.6 954.2,705.4 956.6,704.8 959.0,705.1 959.7,705.0 961.4,703.8 963.8,701.4 965.0,700.0 966.2,700.0 968.6,698.2 970.0,699.0 971.0,698.2 973.4,699.3 975.8,698.3 977.0,698.0 978.2,697.2 980.6,697.5 983.0,697.2 985.4,697.4 987.8,698.6 990.0,698.0 990.2,697.9 992.6,699.1 995.0,699.1 995.0,699.0 997.4,700.1 999.8,702.5 1000.0,703.0 1002.2,705.2 1004.6,704.4 1005.0,705.0 1007.0,701.6 1009.4,699.4 1010.6,697.0 1011.8,691.1 1013.0,685.0 1014.2,679.7 1016.4,670.0 1016.6,670.7 1019.0,667.1 1020.5,667.0 1021.4,667.9 1023.8,668.8 1024.6,670.0 1026.2,676.3 1028.0,685.0 1028.6,686.8 1031.0,697.0 1031.7,699.0 1033.4,700.0 1035.0,701.0 1035.8,700.7 1038.2,703.1 1040.6,706.7 1042.0,707.0 1043.0,708.1 1045.4,708.1 1047.8,711.3 1049.0,710.5 1050.2,710.3 1052.6,709.9 1055.0,710.6 1057.4,711.2 1059.8,711.7 1062.2,711.4 1064.6,710.6 1067.0,710.6 1069.4,710.2 1070.0,711.0 1071.8,711.0 1074.2,710.7 1076.6,711.1 1079.0,710.3 1081.4,710.7 1083.8,710.5 1086.2,710.3 1088.6,710.3 1091.0,710.4 1093.4,710.3 1095.8,711.3 1098.2,711.1 1100.0,711.0 1100.6,710.3 1103.0,711.3 1105.4,711.2 1107.8,711.8 1110.2,710.9 1112.6,710.9 1115.0,710.6 1117.4,711.1 1119.8,711.3 1122.2,711.1 1124.6,710.9 1127.0,711.3 1129.4,711.1 1131.8,711.1 1134.2,710.5 1136.6,711.1 1139.0,711.0" fill="none" stroke="#ff0000" stroke-width="3.8" stroke-linejoin="miter" stroke-miterlimit="2"/>
<polyline points="623.0,713.5 625.4,714.1 627.8,711.3 630.2,712.6 632.6,713.6 635.0,715.3 637.4,713.5 639.8,711.5 642.2,713.9 644.6,712.0 647.0,715.0 649.4,713.2 651.8,715.7 654.2,713.3 656.6,712.3 659.0,711.7 660.0,713.5 661.4,713.1 663.8,714.0 666.2,714.9 668.6,713.8 671.0,712.6 673.4,714.1 675.8,711.8 678.2,714.1 680.6,712.6 683.0,715.3 685.4,714.7 687.8,713.9 690.2,712.3 692.6,714.2 695.0,713.9 697.4,712.8 699.8,712.7 700.0,713.5 702.2,715.1 704.6,713.1 707.0,714.1 709.4,715.3 711.8,711.9 714.2,715.9 716.6,715.0 719.0,713.0 721.4,712.7 723.8,712.4 726.2,715.0 728.6,710.8 731.0,715.1 733.4,714.2 733.4,714.0 735.8,714.6 738.2,716.3 740.0,718.0 740.6,718.2 743.0,720.7 744.0,722.0 745.4,724.5 747.8,724.8 748.0,726.0 750.2,725.1 752.0,722.0 752.6,722.6 755.0,718.7 756.0,718.0 757.4,718.1 759.8,715.6 760.4,716.0 762.2,711.9 763.0,710.0 764.6,699.2 764.6,699.0 766.0,680.0 767.0,660.9 767.0,660.0 769.0,645.0 769.4,640.0 771.0,620.0 771.8,611.9 773.0,600.0 774.2,585.6 774.5,582.0 775.5,560.0 776.5,540.0 776.6,535.9 777.5,500.0 778.5,470.0 779.0,451.5 779.0,452.0 781.4,452.8 782.0,452.0 783.5,470.0 783.8,475.7 784.5,490.0 785.5,510.0 786.2,523.7 786.5,530.0 788.0,555.0 788.6,560.7 790.0,575.0 791.0,582.0 793.0,595.0 793.4,597.8 795.8,606.8 797.0,610.0 798.2,612.8 800.6,617.4 802.0,620.0 803.0,622.4 805.4,627.7 807.0,632.0 807.8,637.5 809.0,645.0 810.2,654.0 811.0,660.0 812.6,668.7 813.8,673.6 815.0,679.6 817.0,690.0 817.4,692.6 819.0,705.0 819.8,710.2 821.0,720.0 822.2,728.2 823.0,735.0 824.6,731.3 825.0,730.0 827.0,718.2 828.0,712.0 829.4,709.0 831.8,704.7 832.0,705.0 834.2,704.0 836.0,703.0 836.6,701.6 839.0,697.1 840.0,695.0 841.4,689.7 843.8,680.4 844.0,680.0 846.2,674.3 848.0,671.0 848.6,672.3 851.0,677.2 851.4,678.0 853.4,682.5 855.0,686.0 855.8,687.1 858.2,689.0 860.0,690.0 860.6,690.7 863.0,694.7 864.7,697.0 865.4,696.8 867.8,700.8 870.0,703.0 870.2,703.1 872.6,705.2 875.0,706.8 877.4,707.6 878.8,709.0 879.8,709.0 882.2,710.7 884.6,708.9 887.0,709.9 889.4,709.3 891.8,710.9 894.2,710.8 896.6,709.7 899.0,709.2 900.0,711.0 901.4,708.3 903.8,712.0 906.2,710.5 908.6,710.2 911.0,710.4 913.4,709.9 915.8,711.8 918.2,711.8 920.6,708.3 923.0,711.0 925.4,711.1 927.8,710.6 930.2,711.1 932.6,713.0 935.0,711.4 937.4,712.5 939.8,712.2 942.2,709.2 944.6,713.2 947.0,711.3 949.4,710.7 950.0,711.0 951.8,712.1 954.2,713.8 956.6,710.2 959.0,710.4 961.4,711.7 963.8,709.1 966.2,710.0 968.6,711.4 971.0,712.3 973.4,712.1 975.8,712.6 978.2,712.9 980.6,711.1 983.0,711.2 985.4,711.3 987.8,711.4 990.2,713.2 992.6,712.9 995.0,709.4 997.4,712.6 999.8,710.7 1000.0,712.0 1002.2,710.7 1004.6,713.7 1007.0,713.8 1009.4,713.6 1011.8,713.1 1014.2,714.5 1016.6,710.9 1019.0,713.4 1021.4,711.6 1023.8,711.7 1026.2,710.5 1028.6,714.5 1031.0,714.8 1033.4,713.8 1035.8,712.0 1038.2,713.0 1040.6,711.5 1043.0,712.5 1045.4,714.8 1047.8,715.0 1050.0,713.0 1050.2,713.8 1052.6,714.0 1055.0,712.9 1057.4,713.5 1059.8,712.8 1062.2,713.6 1064.6,712.2 1067.0,714.3 1069.4,712.7 1071.8,713.3 1074.2,712.9 1076.6,714.9 1079.0,714.1 1081.4,712.0 1083.8,711.9 1086.2,713.7 1088.6,713.2 1091.0,712.7 1093.4,713.3 1095.8,715.1 1098.2,712.9 1100.0,713.0 1100.6,714.8 1103.0,712.4 1105.4,712.7 1107.8,713.4 1110.2,712.9 1112.6,712.4 1115.0,711.7 1117.4,712.6 1119.8,712.5 1122.2,713.0 1124.6,714.3 1127.0,713.7 1129.4,714.5 1131.8,713.3 1134.2,713.6 1136.6,713.8 1139.0,713.9 1141.4,714.3 1143.0,713.0" fill="none" stroke="#00ff00" stroke-width="3.8" stroke-linejoin="miter" stroke-miterlimit="2"/>
<polyline points="623.0,713.8 624.8,713.9 626.6,714.4 628.4,712.9 630.2,712.6 632.0,714.1 633.8,713.2 635.6,713.2 637.4,714.1 639.2,712.9 641.0,714.3 642.8,713.5 644.6,712.6 646.4,714.3 648.2,713.6 650.0,712.7 651.8,714.2 653.6,714.0 655.4,714.0 657.2,713.8 659.0,714.5 660.8,712.5 662.6,714.4 664.4,713.8 666.2,713.0 668.0,713.7 669.8,713.2 671.6,713.8 673.4,713.9 675.2,713.5 677.0,712.7 678.8,713.3 680.6,713.1 682.4,714.0 684.2,714.4 686.0,714.1 687.8,713.6 689.6,712.8 691.4,713.9 693.2,713.0 695.0,714.5 696.8,712.8 698.6,714.4 700.4,712.5 702.2,714.1 704.0,713.3 705.8,713.7 707.6,713.4 709.4,713.3 711.2,713.5 713.0,714.3 714.8,713.4 716.6,713.5 718.4,714.3 720.2,713.2 722.0,713.5 723.8,713.9 725.6,713.9 727.4,713.3 729.2,714.5 731.0,713.9 732.8,713.2 734.6,714.4 736.4,714.9 738.2,716.6 740.0,717.2 741.8,719.3 743.6,721.7 745.4,723.8 747.2,724.8 749.0,724.9 750.8,723.2 752.6,721.6 754.4,720.4 756.2,717.3 758.0,717.6 759.8,716.4 761.6,714.0" fill="none" stroke="#00ff00" stroke-width="6.5" stroke-linejoin="bevel"/>
<polyline points="872.0,703.6 873.8,704.9 875.6,707.0 877.4,707.4 879.2,708.3 881.0,709.1 882.8,709.2 884.6,709.0 886.4,709.5 888.2,710.6 890.0,709.3 891.8,709.6 893.6,709.5 895.4,710.0 897.2,709.9 899.0,711.9 900.8,710.6 902.6,712.0 904.4,710.3 906.2,711.8 908.0,711.0 909.8,711.4 911.6,711.3 913.4,710.5 915.2,710.5 917.0,711.4 918.8,710.3 920.6,710.0 922.4,711.5 924.2,711.3 926.0,710.5 927.8,711.0 929.6,711.8 931.4,710.6 933.2,710.2 935.0,710.8 936.8,710.3 938.6,710.7 940.4,710.1 942.2,711.5 944.0,711.6 945.8,710.7 947.6,710.8 949.4,710.5 951.2,711.9 953.0,711.8 954.8,711.4 956.6,710.5 958.4,710.5 960.2,711.7 962.0,710.6 963.8,711.7 965.6,711.2 967.4,710.4 969.2,710.8 971.0,712.2 972.8,711.1 974.6,711.8 976.4,712.1 978.2,711.4 980.0,711.6 981.8,712.4 983.6,712.1 985.4,711.7 987.2,711.8 989.0,711.7 990.8,711.7 992.6,712.2 994.4,711.4 996.2,712.7 998.0,711.5 999.8,711.5 1001.6,713.0 1003.4,711.1 1005.2,711.9 1007.0,712.2 1008.8,712.1 1010.6,712.9 1012.4,712.6 1014.2,712.3 1016.0,711.3 1017.8,713.3 1019.6,712.1 1021.4,712.1 1023.2,711.9 1025.0,711.9 1026.8,711.7 1028.6,711.8 1030.4,713.0 1032.2,712.2 1034.0,712.7 1035.8,713.0 1037.6,711.9 1039.4,713.3 1041.2,712.2 1043.0,713.5 1044.8,713.7 1046.6,712.8 1048.4,712.6 1050.2,713.0 1052.0,713.8 1053.8,714.0 1055.6,713.4 1057.4,712.8 1059.2,712.8 1061.0,713.4 1062.8,712.7 1064.6,713.6 1066.4,712.7 1068.2,713.2 1070.0,713.0 1071.8,713.1 1073.6,713.7 1075.4,713.8 1077.2,713.6 1079.0,713.3 1080.8,712.8 1082.6,712.8 1084.4,712.9 1086.2,713.7 1088.0,713.5 1089.8,712.2 1091.6,712.5 1093.4,712.1 1095.2,712.6 1097.0,713.7 1098.8,713.3 1100.6,712.0 1102.4,713.5 1104.2,713.2 1106.0,713.0 1107.8,712.1 1109.6,712.0 1111.4,712.1 1113.2,713.8 1115.0,712.8 1116.8,712.1 1118.6,713.6 1120.4,713.0 1122.2,712.7 1124.0,712.8 1125.8,712.4 1127.6,712.1 1129.4,713.6 1131.2,713.8 1133.0,712.7 1134.8,713.2 1136.6,713.7 1138.4,712.0 1140.2,714.0 1142.0,712.2" fill="none" stroke="#00ff00" stroke-width="6.5" stroke-linejoin="bevel"/>
<polyline points="798.0,612.1 799.5,615.3 801.0,619.0 802.5,622.4 804.0,625.9 805.5,628.0 807.0,633.3 808.5,641.5 810.0,651.9 811.5,661.2 813.0,669.7 814.5,676.2 816.0,684.2 817.5,694.1 819.0,705.8 820.5,717.0 822.0,726.3 823.5,732.4 825.0,729.3 826.5,721.2 828.0,713.0 829.5,710.3 831.0,708.1 832.5,705.0 834.0,704.4 835.5,702.6 837.0,700.4 838.5,697.1 840.0,695.1 841.5,689.7 843.0,684.0 844.5,678.6 846.0,675.3 847.5,671.4 849.0,674.0 850.5,676.4 852.0,680.1 853.5,683.6 855.0,685.3 856.5,686.1 858.0,687.7 859.5,690.8 861.0,692.4 862.5,693.4 864.0,696.8 865.5,697.4 867.0,700.7 868.5,700.1 870.0,703.7 871.5,705.5" fill="none" stroke="#00ff00" stroke-width="6.5" stroke-linejoin="bevel"/>
<polyline points="776.0,550.1 777.5,500.5 779.0,452.5 780.5,452.7 782.0,451.6 783.5,470.9 785.0,500.1 786.5,530.5 788.0,555.5 789.5,570.9 791.0,581.2 792.5,591.4 794.0,599.2 795.5,604.5 797.0,610.5" fill="none" stroke="#00ff00" stroke-width="5.5" stroke-linejoin="bevel"/>
<polyline points="735.0,714.5 736.5,717.3 738.0,718.2 739.5,719.0 741.0,719.9 742.5,721.6 744.0,720.5 745.5,723.9 747.0,724.2 748.5,726.2 750.0,723.8 751.5,722.7 753.0,721.1 754.5,719.7 756.0,719.0 757.5,718.8 759.0,716.2 760.5,716.7 762.0,713.5 763.5,706.2 765.0,692.4" fill="none" stroke="#00ff00" stroke-width="6.5" stroke-linejoin="bevel"/>
<polygon points="813,688 817,697 820,705 823,712 826,706 830,700 834,696 840,684 844,672 850,669 855,674 860,686 866,694 872,700 880,704 880,714 872,712 866,708 860,702 855,694 850,688 844,692 840,704 834,713 830,722 827,737 823,740 820,728 817,712 813,700" fill="#00ff00"/>
<g clip-path="url(#cc)">
<polyline points="1195.3,658.5 1199.4,644.7 1207.6,624.2 1215.0,605.7 1221.7,583.7 1228.0,569.0 1236.3,555.8 1244.3,537.4 1251.6,531.5 1259.0,517.7 1266.8,502.0 1274.0,498.7 1281.5,506.0 1288.7,508.0 1296.0,518.0 1304.0,527.0 1311.0,532.5 1318.0,550.0 1326.4,566.7 1333.7,577.2 1341.0,601.3 1349.0,615.4 1354.8,638.0 1363.0,659.4 1370.4,676.0 1377.7,689.3 1385.0,695.0 1392.3,711.3 1401.0,720.0 1408.5,723.0 1415.8,723.0 1423.0,714.2 1430.5,712.7 1437.0,709.2 1445.0,692.2 1452.5,680.0 1460.3,661.4 1467.0,646.7 1474.0,628.3 1481.7,610.0 1489.0,593.4 1496.3,577.8 1504.3,560.8 1511.6,544.0 1519.0,538.2 1526.8,530.3 1535.0,517.7 1541.5,516.2 1549.0,518.6 1556.0,516.8 1563.8,519.8 1570.8,533.3 1578.4,543.2 1585.5,555.8 1593.0,577.8 1601.0,595.4 1607.8,614.5 1614.8,625.3 1623.0,643.0 1630.4,660.0 1637.7,673.7 1645.0,690.7 1652.3,704.0 1659.7,712.0 1667.6,714.2 1675.2,721.5 1683.0,720.0 1690.5,720.0 1697.0,712.0 1704.5,702.5 1711.6,692.2 1719.2,677.5 1725.0,667.3" fill="none" stroke="#ff0000" stroke-width="2.2" stroke-dasharray="2.2 19"/>
<polyline points="1201.0,487.0 1207.6,515.7 1215.8,525.0 1222.3,548.5 1229.6,569.0 1237.5,589.6 1245.0,610.0 1252.0,627.7 1259.8,646.7 1267.7,657.0 1275.0,677.5 1282.4,687.8 1291.0,698.0 1299.0,704.0 1307.3,705.4 1316.0,699.5 1325.5,689.3 1333.7,679.0 1342.0,664.3 1350.0,643.8 1356.6,627.7 1364.5,610.0 1371.8,583.7 1379.0,569.0 1386.5,547.0 1393.8,525.0 1401.0,522.0 1408.5,503.0 1416.4,485.5 1424.6,486.3 1432.0,469.3 1440.7,475.2 1449.5,478.0 1456.9,490.0 1460.3,491.3 1467.6,497.2 1475.0,517.7 1482.8,535.3 1489.6,555.8 1497.0,582.2 1504.3,595.4 1511.6,614.5 1519.8,636.0 1526.8,652.6 1534.5,666.4 1542.4,677.0 1550.3,695.1 1558.5,695.1 1566.7,705.4 1575.5,702.5 1584.3,694.5 1593.0,683.4 1601.0,682.8 1609.0,662.9 1616.6,646.7 1624.5,629.0 1631.2,607.0 1638.3,586.6 1645.9,566.7 1653.0,550.8 1660.6,535.3 1668.5,518.6 1675.8,511.8 1684.0,497.2 1691.0,489.9 1698.7,481.0 1706.6,484.0 1714.0,484.0 1720.4,491.3 1725.7,501.6" fill="none" stroke="#ff00ff" stroke-width="2.2" stroke-dasharray="2.2 19"/>
<polyline points="1196.6,329.0 1201.0,299.0 1207.6,259.7 1216.4,225.0 1222.0,185.0 1229.6,160.7 1238.4,141.3 1245.0,104.0 1252.5,93.0 1261.0,77.5 1267.0,45.4 1274.0,48.0 1281.0,52.0 1288.0,55.0 1294.0,60.0 1297.8,84.0 1305.0,98.0 1312.0,121.5 1319.0,147.5 1326.4,179.6 1335.0,200.7 1341.8,243.4 1349.0,273.0 1357.0,315.0 1364.7,352.5 1371.0,375.0 1379.0,404.0 1385.8,417.0 1393.5,444.5 1402.5,453.5 1409.0,460.0 1417.0,458.0 1422.7,443.0 1428.0,436.6 1438.5,423.0 1445.0,391.0 1453.0,372.5 1460.5,337.7 1467.7,309.0 1475.5,274.3 1480.0,243.0 1490.0,205.0 1497.4,186.4 1504.8,149.7 1512.0,126.5 1519.4,108.2 1526.8,95.5 1536.5,77.7 1542.6,66.7 1550.0,82.5 1556.0,84.0 1563.4,86.2 1572.0,110.6 1578.0,135.0 1586.6,158.3 1595.2,198.6 1602.5,238.7 1608.9,265.7 1617.2,292.7 1623.3,323.5 1631.4,352.3 1639.0,376.6 1645.7,403.0 1653.8,425.4 1661.0,445.6 1669.0,441.0 1676.8,460.2 1684.6,454.6 1691.4,451.2 1698.0,427.6 1705.0,417.5 1714.0,392.8 1719.5,365.8 1724.0,342.0" fill="none" stroke="#00ff00" stroke-width="2.2" stroke-dasharray="2.2 19"/>
<path d="M1189.5,823.0a5,5 0 1,0 10,0a5,5 0 1,0 -10,0ZM1191.7,822.3a5,5 0 1,0 10,0a5,5 0 1,0 -10,0ZM1193.9,822.9a5,5 0 1,0 10,0a5,5 0 1,0 -10,0ZM1196.1,819.3a5,5 0 1,0 10,0a5,5 0 1,0 -10,0ZM1198.3,818.2a5,5 0 1,0 10,0a5,5 0 1,0 -10,0ZM1200.5,817.4a5,5 0 1,0 10,0a5,5 0 1,0 -10,0ZM1202.7,814.0a5,5 0 1,0 10,0a5,5 0 1,0 -10,0ZM1204.9,814.4a5,5 0 1,0 10,0a5,5 0 1,0 -10,0ZM1207.1,813.7a5,5 0 1,0 10,0a5,5 0 1,0 -10,0ZM1209.3,813.2a5,5 0 1,0 10,0a5,5 0 1,0 -10,0ZM1211.5,808.3a5,5 0 1,0 10,0a5,5 0 1,0 -10,0ZM1213.7,808.1a5,5 0 1,0 10,0a5,5 0 1,0 -10,0ZM1215.9,805.9a5,5 0 1,0 10,0a5,5 0 1,0 -10,0ZM1218.1,808.8a5,5 0 1,0 10,0a5,5 0 1,0 -10,0ZM1220.3,807.3a5,5 0 1,0 10,0a5,5 0 1,0 -10,0ZM1222.5,803.0a5,5 0 1,0 10,0a5,5 0 1,0 -10,0ZM1224.7,807.0a5,5 0 1,0 10,0a5,5 0 1,0 -10,0ZM1226.9,806.0a5,5 0 1,0 10,0a5,5 0 1,0 -10,0ZM1229.1,803.5a5,5 0 1,0 10,0a5,5 0 1,0 -10,0ZM1231.3,802.0a5,5 0 1,0 10,0a5,5 0 1,0 -10,0ZM1233.5,798.3a5,5 0 1,0 10,0a5,5 0 1,0 -10,0ZM1235.7,796.2a5,5 0 1,0 10,0a5,5 0 1,0 -10,0ZM1237.9,797.5a5,5 0 1,0 10,0a5,5 0 1,0 -10,0ZM1240.1,793.7a5,5 0 1,0 10,0a5,5 0 1,0 -10,0ZM1242.3,793.1a5,5 0 1,0 10,0a5,5 0 1,0 -10,0ZM1244.5,792.1a5,5 0 1,0 10,0a5,5 0 1,0 -10,0ZM1246.7,789.8a5,5 0 1,0 10,0a5,5 0 1,0 -10,0ZM1248.9,790.8a5,5 0 1,0 10,0a5,5 0 1,0 -10,0ZM1251.1,789.4a5,5 0 1,0 10,0a5,5 0 1,0 -10,0ZM1253.3,790.3a5,5 0 1,0 10,0a5,5 0 1,0 -10,0ZM1255.5,788.0a5,5 0 1,0 10,0a5,5 0 1,0 -10,0ZM1257.7,788.5a5,5 0 1,0 10,0a5,5 0 1,0 -10,0ZM1259.9,787.6a5,5 0 1,0 10,0a5,5 0 1,0 -10,0ZM1262.1,788.2a5,5 0 1,0 10,0a5,5 0 1,0 -10,0ZM1264.3,787.0a5,5 0 1,0 10,0a5,5 0 1,0 -10,0ZM1266.5,785.9a5,5 0 1,0 10,0a5,5 0 1,0 -10,0ZM1268.7,789.5a5,5 0 1,0 10,0a5,5 0 1,0 -10,0ZM1270.9,789.3a5,5 0 1,0 10,0a5,5 0 1,0 -10,0ZM1273.1,788.3a5,5 0 1,0 10,0a5,5 0 1,0 -10,0ZM1275.3,788.2a5,5 0 1,0 10,0a5,5 0 1,0 -10,0ZM1277.5,786.8a5,5 0 1,0 10,0a5,5 0 1,0 -10,0ZM1279.7,787.0a5,5 0 1,0 10,0a5,5 0 1,0 -10,0ZM1281.9,788.0a5,5 0 1,0 10,0a5,5 0 1,0 -10,0ZM1284.1,787.6a5,5 0 1,0 10,0a5,5 0 1,0 -10,0ZM1286.3,791.9a5,5 0 1,0 10,0a5,5 0 1,0 -10,0ZM1288.5,790.5a5,5 0 1,0 10,0a5,5 0 1,0 -10,0ZM1290.7,793.1a5,5 0 1,0 10,0a5,5 0 1,0 -10,0ZM1292.9,791.0a5,5 0 1,0 10,0a5,5 0 1,0 -10,0ZM1295.1,794.2a5,5 0 1,0 10,0a5,5 0 1,0 -10,0ZM1297.3,793.9a5,5 0 1,0 10,0a5,5 0 1,0 -10,0ZM1299.5,789.7a5,5 0 1,0 10,0a5,5 0 1,0 -10,0ZM1301.7,791.9a5,5 0 1,0 10,0a5,5 0 1,0 -10,0ZM1303.9,796.8a5,5 0 1,0 10,0a5,5 0 1,0 -10,0ZM1306.1,795.8a5,5 0 1,0 10,0a5,5 0 1,0 -10,0ZM1308.3,799.7a5,5 0 1,0 10,0a5,5 0 1,0 -10,0ZM1310.5,797.9a5,5 0 1,0 10,0a5,5 0 1,0 -10,0ZM1312.7,797.1a5,5 0 1,0 10,0a5,5 0 1,0 -10,0ZM1314.9,800.8a5,5 0 1,0 10,0a5,5 0 1,0 -10,0ZM1317.1,802.5a5,5 0 1,0 10,0a5,5 0 1,0 -10,0ZM1319.3,800.7a5,5 0 1,0 10,0a5,5 0 1,0 -10,0ZM1321.5,800.7a5,5 0 1,0 10,0a5,5 0 1,0 -10,0ZM1323.7,802.8a5,5 0 1,0 10,0a5,5 0 1,0 -10,0ZM1325.9,807.1a5,5 0 1,0 10,0a5,5 0 1,0 -10,0ZM1328.1,807.1a5,5 0 1,0 10,0a5,5 0 1,0 -10,0ZM1330.3,804.8a5,5 0 1,0 10,0a5,5 0 1,0 -10,0ZM1332.5,806.6a5,5 0 1,0 10,0a5,5 0 1,0 -10,0ZM1334.7,806.9a5,5 0 1,0 10,0a5,5 0 1,0 -10,0ZM1336.9,807.9a5,5 0 1,0 10,0a5,5 0 1,0 -10,0ZM1339.1,814.0a5,5 0 1,0 10,0a5,5 0 1,0 -10,0ZM1341.3,813.0a5,5 0 1,0 10,0a5,5 0 1,0 -10,0ZM1343.5,817.2a5,5 0 1,0 10,0a5,5 0 1,0 -10,0ZM1345.7,818.8a5,5 0 1,0 10,0a5,5 0 1,0 -10,0ZM1347.9,819.4a5,5 0 1,0 10,0a5,5 0 1,0 -10,0ZM1350.1,823.8a5,5 0 1,0 10,0a5,5 0 1,0 -10,0ZM1352.3,822.2a5,5 0 1,0 10,0a5,5 0 1,0 -10,0ZM1354.5,826.4a5,5 0 1,0 10,0a5,5 0 1,0 -10,0ZM1356.7,825.2a5,5 0 1,0 10,0a5,5 0 1,0 -10,0ZM1358.9,828.3a5,5 0 1,0 10,0a5,5 0 1,0 -10,0ZM1361.1,828.7a5,5 0 1,0 10,0a5,5 0 1,0 -10,0ZM1363.3,829.9a5,5 0 1,0 10,0a5,5 0 1,0 -10,0ZM1365.5,834.2a5,5 0 1,0 10,0a5,5 0 1,0 -10,0ZM1367.7,834.0a5,5 0 1,0 10,0a5,5 0 1,0 -10,0ZM1369.9,832.1a5,5 0 1,0 10,0a5,5 0 1,0 -10,0ZM1372.1,835.7a5,5 0 1,0 10,0a5,5 0 1,0 -10,0ZM1374.3,832.9a5,5 0 1,0 10,0a5,5 0 1,0 -10,0ZM1376.5,834.5a5,5 0 1,0 10,0a5,5 0 1,0 -10,0ZM1378.7,837.4a5,5 0 1,0 10,0a5,5 0 1,0 -10,0ZM1380.9,836.9a5,5 0 1,0 10,0a5,5 0 1,0 -10,0ZM1383.1,834.6a5,5 0 1,0 10,0a5,5 0 1,0 -10,0ZM1385.3,839.8a5,5 0 1,0 10,0a5,5 0 1,0 -10,0ZM1387.5,836.3a5,5 0 1,0 10,0a5,5 0 1,0 -10,0ZM1389.7,837.1a5,5 0 1,0 10,0a5,5 0 1,0 -10,0ZM1391.9,840.3a5,5 0 1,0 10,0a5,5 0 1,0 -10,0ZM1394.1,838.6a5,5 0 1,0 10,0a5,5 0 1,0 -10,0ZM1396.3,838.8a5,5 0 1,0 10,0a5,5 0 1,0 -10,0ZM1398.5,838.1a5,5 0 1,0 10,0a5,5 0 1,0 -10,0ZM1400.7,838.6a5,5 0 1,0 10,0a5,5 0 1,0 -10,0ZM1402.9,841.5a5,5 0 1,0 10,0a5,5 0 1,0 -10,0ZM1405.1,840.2a5,5 0 1,0 10,0a5,5 0 1,0 -10,0ZM1407.3,842.5a5,5 0 1,0 10,0a5,5 0 1,0 -10,0ZM1409.5,841.7a5,5 0 1,0 10,0a5,5 0 1,0 -10,0ZM1411.7,841.4a5,5 0 1,0 10,0a5,5 0 1,0 -10,0ZM1413.9,842.5a5,5 0 1,0 10,0a5,5 0 1,0 -10,0ZM1416.1,838.6a5,5 0 1,0 10,0a5,5 0 1,0 -10,0ZM1418.3,837.6a5,5 0 1,0 10,0a5,5 0 1,0 -10,0ZM1420.5,837.6a5,5 0 1,0 10,0a5,5 0 1,0 -10,0ZM1422.7,832.6a5,5 0 1,0 10,0a5,5 0 1,0 -10,0ZM1424.9,831.8a5,5 0 1,0 10,0a5,5 0 1,0 -10,0ZM1427.1,835.7a5,5 0 1,0 10,0a5,5 0 1,0 -10,0ZM1429.3,835.3a5,5 0 1,0 10,0a5,5 0 1,0 -10,0ZM1431.5,832.3a5,5 0 1,0 10,0a5,5 0 1,0 -10,0ZM1433.7,832.0a5,5 0 1,0 10,0a5,5 0 1,0 -10,0ZM1435.9,834.7a5,5 0 1,0 10,0a5,5 0 1,0 -10,0ZM1438.1,835.0a5,5 0 1,0 10,0a5,5 0 1,0 -10,0ZM1440.3,830.3a5,5 0 1,0 10,0a5,5 0 1,0 -10,0ZM1442.5,833.5a5,5 0 1,0 10,0a5,5 0 1,0 -10,0ZM1444.7,832.4a5,5 0 1,0 10,0a5,5 0 1,0 -10,0ZM1446.9,829.9a5,5 0 1,0 10,0a5,5 0 1,0 -10,0ZM1449.1,827.8a5,5 0 1,0 10,0a5,5 0 1,0 -10,0ZM1451.3,825.1a5,5 0 1,0 10,0a5,5 0 1,0 -10,0ZM1453.5,823.6a5,5 0 1,0 10,0a5,5 0 1,0 -10,0ZM1455.7,827.3a5,5 0 1,0 10,0a5,5 0 1,0 -10,0ZM1457.9,822.4a5,5 0 1,0 10,0a5,5 0 1,0 -10,0ZM1460.1,823.8a5,5 0 1,0 10,0a5,5 0 1,0 -10,0ZM1462.3,820.3a5,5 0 1,0 10,0a5,5 0 1,0 -10,0ZM1464.5,822.2a5,5 0 1,0 10,0a5,5 0 1,0 -10,0ZM1466.7,819.9a5,5 0 1,0 10,0a5,5 0 1,0 -10,0ZM1468.9,817.3a5,5 0 1,0 10,0a5,5 0 1,0 -10,0ZM1471.1,815.5a5,5 0 1,0 10,0a5,5 0 1,0 -10,0ZM1473.3,817.3a5,5 0 1,0 10,0a5,5 0 1,0 -10,0ZM1475.5,812.8a5,5 0 1,0 10,0a5,5 0 1,0 -10,0ZM1477.7,812.5a5,5 0 1,0 10,0a5,5 0 1,0 -10,0ZM1479.9,813.2a5,5 0 1,0 10,0a5,5 0 1,0 -10,0ZM1482.1,813.6a5,5 0 1,0 10,0a5,5 0 1,0 -10,0ZM1484.3,811.2a5,5 0 1,0 10,0a5,5 0 1,0 -10,0ZM1486.5,808.4a5,5 0 1,0 10,0a5,5 0 1,0 -10,0ZM1488.7,810.6a5,5 0 1,0 10,0a5,5 0 1,0 -10,0ZM1490.9,805.8a5,5 0 1,0 10,0a5,5 0 1,0 -10,0ZM1493.1,803.7a5,5 0 1,0 10,0a5,5 0 1,0 -10,0ZM1495.3,803.9a5,5 0 1,0 10,0a5,5 0 1,0 -10,0ZM1497.5,803.8a5,5 0 1,0 10,0a5,5 0 1,0 -10,0ZM1499.7,800.7a5,5 0 1,0 10,0a5,5 0 1,0 -10,0ZM1501.9,800.2a5,5 0 1,0 10,0a5,5 0 1,0 -10,0ZM1504.1,800.1a5,5 0 1,0 10,0a5,5 0 1,0 -10,0ZM1506.3,800.0a5,5 0 1,0 10,0a5,5 0 1,0 -10,0ZM1508.5,796.6a5,5 0 1,0 10,0a5,5 0 1,0 -10,0ZM1510.7,797.2a5,5 0 1,0 10,0a5,5 0 1,0 -10,0ZM1512.9,799.5a5,5 0 1,0 10,0a5,5 0 1,0 -10,0ZM1515.1,799.5a5,5 0 1,0 10,0a5,5 0 1,0 -10,0ZM1517.3,797.3a5,5 0 1,0 10,0a5,5 0 1,0 -10,0ZM1519.5,797.0a5,5 0 1,0 10,0a5,5 0 1,0 -10,0ZM1521.7,796.0a5,5 0 1,0 10,0a5,5 0 1,0 -10,0ZM1523.9,793.2a5,5 0 1,0 10,0a5,5 0 1,0 -10,0ZM1526.1,791.3a5,5 0 1,0 10,0a5,5 0 1,0 -10,0ZM1528.3,789.5a5,5 0 1,0 10,0a5,5 0 1,0 -10,0ZM1530.5,792.4a5,5 0 1,0 10,0a5,5 0 1,0 -10,0ZM1532.7,789.6a5,5 0 1,0 10,0a5,5 0 1,0 -10,0ZM1534.9,789.3a5,5 0 1,0 10,0a5,5 0 1,0 -10,0ZM1537.1,785.5a5,5 0 1,0 10,0a5,5 0 1,0 -10,0ZM1539.3,790.2a5,5 0 1,0 10,0a5,5 0 1,0 -10,0ZM1541.5,790.9a5,5 0 1,0 10,0a5,5 0 1,0 -10,0ZM1543.7,793.6a5,5 0 1,0 10,0a5,5 0 1,0 -10,0ZM1545.9,791.4a5,5 0 1,0 10,0a5,5 0 1,0 -10,0ZM1548.1,794.3a5,5 0 1,0 10,0a5,5 0 1,0 -10,0ZM1550.3,788.9a5,5 0 1,0 10,0a5,5 0 1,0 -10,0ZM1552.5,791.0a5,5 0 1,0 10,0a5,5 0 1,0 -10,0ZM1554.7,792.9a5,5 0 1,0 10,0a5,5 0 1,0 -10,0ZM1556.9,794.6a5,5 0 1,0 10,0a5,5 0 1,0 -10,0ZM1559.1,794.7a5,5 0 1,0 10,0a5,5 0 1,0 -10,0ZM1561.3,795.4a5,5 0 1,0 10,0a5,5 0 1,0 -10,0ZM1563.5,796.7a5,5 0 1,0 10,0a5,5 0 1,0 -10,0ZM1565.7,798.3a5,5 0 1,0 10,0a5,5 0 1,0 -10,0ZM1567.9,796.2a5,5 0 1,0 10,0a5,5 0 1,0 -10,0ZM1570.1,798.9a5,5 0 1,0 10,0a5,5 0 1,0 -10,0ZM1572.3,801.0a5,5 0 1,0 10,0a5,5 0 1,0 -10,0ZM1574.5,801.8a5,5 0 1,0 10,0a5,5 0 1,0 -10,0ZM1576.7,800.4a5,5 0 1,0 10,0a5,5 0 1,0 -10,0ZM1578.9,803.3a5,5 0 1,0 10,0a5,5 0 1,0 -10,0ZM1581.1,804.5a5,5 0 1,0 10,0a5,5 0 1,0 -10,0ZM1583.3,803.8a5,5 0 1,0 10,0a5,5 0 1,0 -10,0ZM1585.5,804.8a5,5 0 1,0 10,0a5,5 0 1,0 -10,0ZM1587.7,804.3a5,5 0 1,0 10,0a5,5 0 1,0 -10,0ZM1589.9,806.2a5,5 0 1,0 10,0a5,5 0 1,0 -10,0ZM1592.1,808.0a5,5 0 1,0 10,0a5,5 0 1,0 -10,0ZM1594.3,807.0a5,5 0 1,0 10,0a5,5 0 1,0 -10,0ZM1596.5,811.6a5,5 0 1,0 10,0a5,5 0 1,0 -10,0ZM1598.7,815.2a5,5 0 1,0 10,0a5,5 0 1,0 -10,0ZM1600.9,816.4a5,5 0 1,0 10,0a5,5 0 1,0 -10,0ZM1603.1,817.4a5,5 0 1,0 10,0a5,5 0 1,0 -10,0ZM1605.3,817.3a5,5 0 1,0 10,0a5,5 0 1,0 -10,0ZM1607.5,820.1a5,5 0 1,0 10,0a5,5 0 1,0 -10,0ZM1609.7,820.2a5,5 0 1,0 10,0a5,5 0 1,0 -10,0ZM1611.9,820.3a5,5 0 1,0 10,0a5,5 0 1,0 -10,0ZM1614.1,823.3a5,5 0 1,0 10,0a5,5 0 1,0 -10,0ZM1616.3,820.3a5,5 0 1,0 10,0a5,5 0 1,0 -10,0ZM1618.5,824.6a5,5 0 1,0 10,0a5,5 0 1,0 -10,0ZM1620.7,821.8a5,5 0 1,0 10,0a5,5 0 1,0 -10,0ZM1622.9,825.8a5,5 0 1,0 10,0a5,5 0 1,0 -10,0ZM1625.1,826.3a5,5 0 1,0 10,0a5,5 0 1,0 -10,0ZM1627.3,826.1a5,5 0 1,0 10,0a5,5 0 1,0 -10,0ZM1629.5,829.6a5,5 0 1,0 10,0a5,5 0 1,0 -10,0ZM1631.7,829.6a5,5 0 1,0 10,0a5,5 0 1,0 -10,0ZM1633.9,831.4a5,5 0 1,0 10,0a5,5 0 1,0 -10,0ZM1636.1,834.0a5,5 0 1,0 10,0a5,5 0 1,0 -10,0ZM1638.3,831.9a5,5 0 1,0 10,0a5,5 0 1,0 -10,0ZM1640.5,832.0a5,5 0 1,0 10,0a5,5 0 1,0 -10,0ZM1642.7,834.8a5,5 0 1,0 10,0a5,5 0 1,0 -10,0ZM1644.9,838.1a5,5 0 1,0 10,0a5,5 0 1,0 -10,0ZM1647.1,837.0a5,5 0 1,0 10,0a5,5 0 1,0 -10,0ZM1649.3,838.1a5,5 0 1,0 10,0a5,5 0 1,0 -10,0ZM1651.5,843.1a5,5 0 1,0 10,0a5,5 0 1,0 -10,0ZM1653.7,841.8a5,5 0 1,0 10,0a5,5 0 1,0 -10,0ZM1655.9,840.7a5,5 0 1,0 10,0a5,5 0 1,0 -10,0ZM1658.1,843.0a5,5 0 1,0 10,0a5,5 0 1,0 -10,0ZM1660.3,840.1a5,5 0 1,0 10,0a5,5 0 1,0 -10,0ZM1662.5,841.9a5,5 0 1,0 10,0a5,5 0 1,0 -10,0ZM1664.7,839.4a5,5 0 1,0 10,0a5,5 0 1,0 -10,0ZM1666.9,840.7a5,5 0 1,0 10,0a5,5 0 1,0 -10,0ZM1669.1,842.8a5,5 0 1,0 10,0a5,5 0 1,0 -10,0ZM1671.3,843.6a5,5 0 1,0 10,0a5,5 0 1,0 -10,0ZM1673.5,843.7a5,5 0 1,0 10,0a5,5 0 1,0 -10,0ZM1675.7,841.3a5,5 0 1,0 10,0a5,5 0 1,0 -10,0ZM1677.9,842.5a5,5 0 1,0 10,0a5,5 0 1,0 -10,0ZM1680.1,841.4a5,5 0 1,0 10,0a5,5 0 1,0 -10,0ZM1682.3,840.3a5,5 0 1,0 10,0a5,5 0 1,0 -10,0ZM1684.5,840.6a5,5 0 1,0 10,0a5,5 0 1,0 -10,0ZM1686.7,840.8a5,5 0 1,0 10,0a5,5 0 1,0 -10,0ZM1688.9,839.3a5,5 0 1,0 10,0a5,5 0 1,0 -10,0ZM1691.1,837.0a5,5 0 1,0 10,0a5,5 0 1,0 -10,0ZM1693.3,836.8a5,5 0 1,0 10,0a5,5 0 1,0 -10,0ZM1695.5,832.2a5,5 0 1,0 10,0a5,5 0 1,0 -10,0ZM1697.7,830.6a5,5 0 1,0 10,0a5,5 0 1,0 -10,0ZM1699.9,830.9a5,5 0 1,0 10,0a5,5 0 1,0 -10,0ZM1702.1,828.9a5,5 0 1,0 10,0a5,5 0 1,0 -10,0ZM1704.3,827.5a5,5 0 1,0 10,0a5,5 0 1,0 -10,0ZM1706.5,827.4a5,5 0 1,0 10,0a5,5 0 1,0 -10,0ZM1708.7,827.9a5,5 0 1,0 10,0a5,5 0 1,0 -10,0ZM1710.9,827.2a5,5 0 1,0 10,0a5,5 0 1,0 -10,0ZM1713.1,826.2a5,5 0 1,0 10,0a5,5 0 1,0 -10,0ZM1715.3,829.0a5,5 0 1,0 10,0a5,5 0 1,0 -10,0ZM1717.5,829.7a5,5 0 1,0 10,0a5,5 0 1,0 -10,0ZM1719.7,827.0a5,5 0 1,0 10,0a5,5 0 1,0 -10,0Z" fill="#0000ff"/>
<path d="M1190.3,653.5h10v10h-10ZM1194.4,639.7h10v10h-10ZM1202.6,619.2h10v10h-10ZM1210.0,600.7h10v10h-10ZM1216.7,578.7h10v10h-10ZM1223.0,564.0h10v10h-10ZM1231.3,550.8h10v10h-10ZM1239.3,532.4h10v10h-10ZM1246.6,526.5h10v10h-10ZM1254.0,512.7h10v10h-10ZM1261.8,497.0h10v10h-10ZM1269.0,493.7h10v10h-10ZM1276.5,501.0h10v10h-10ZM1283.7,503.0h10v10h-10ZM1291.0,513.0h10v10h-10ZM1299.0,522.0h10v10h-10ZM1306.0,527.5h10v10h-10ZM1313.0,545.0h10v10h-10ZM1321.4,561.7h10v10h-10ZM1328.7,572.2h10v10h-10ZM1336.0,596.3h10v10h-10ZM1344.0,610.4h10v10h-10ZM1349.8,633.0h10v10h-10ZM1358.0,654.4h10v10h-10ZM1365.4,671.0h10v10h-10ZM1372.7,684.3h10v10h-10ZM1380.0,690.0h10v10h-10ZM1387.3,706.3h10v10h-10ZM1396.0,715.0h10v10h-10ZM1403.5,718.0h10v10h-10ZM1410.8,718.0h10v10h-10ZM1418.0,709.2h10v10h-10ZM1425.5,707.7h10v10h-10ZM1432.0,704.2h10v10h-10ZM1440.0,687.2h10v10h-10ZM1447.5,675.0h10v10h-10ZM1455.3,656.4h10v10h-10ZM1462.0,641.7h10v10h-10ZM1469.0,623.3h10v10h-10ZM1476.7,605.0h10v10h-10ZM1484.0,588.4h10v10h-10ZM1491.3,572.8h10v10h-10ZM1499.3,555.8h10v10h-10ZM1506.6,539.0h10v10h-10ZM1514.0,533.2h10v10h-10ZM1521.8,525.3h10v10h-10ZM1530.0,512.7h10v10h-10ZM1536.5,511.2h10v10h-10ZM1544.0,513.6h10v10h-10ZM1551.0,511.8h10v10h-10ZM1558.8,514.8h10v10h-10ZM1565.8,528.3h10v10h-10ZM1573.4,538.2h10v10h-10ZM1580.5,550.8h10v10h-10ZM1588.0,572.8h10v10h-10ZM1596.0,590.4h10v10h-10ZM1602.8,609.5h10v10h-10ZM1609.8,620.3h10v10h-10ZM1618.0,638.0h10v10h-10ZM1625.4,655.0h10v10h-10ZM1632.7,668.7h10v10h-10ZM1640.0,685.7h10v10h-10ZM1647.3,699.0h10v10h-10ZM1654.7,707.0h10v10h-10ZM1662.6,709.2h10v10h-10ZM1670.2,716.5h10v10h-10ZM1678.0,715.0h10v10h-10ZM1685.5,715.0h10v10h-10ZM1692.0,707.0h10v10h-10ZM1699.5,697.5h10v10h-10ZM1706.6,687.2h10v10h-10ZM1714.2,672.5h10v10h-10ZM1720.0,662.3h10v10h-10Z" fill="#ff0000"/>
<path d="M1201.0,478.6L1203.4,483.8L1209.0,484.4L1204.8,488.2L1205.9,493.8L1201.0,491.0L1196.1,493.8L1197.2,488.2L1193.0,484.4L1198.6,483.8ZM1207.6,507.3L1210.0,512.5L1215.6,513.1L1211.4,516.9L1212.5,522.5L1207.6,519.7L1202.7,522.5L1203.8,516.9L1199.6,513.1L1205.2,512.5ZM1215.8,516.6L1218.2,521.8L1223.8,522.4L1219.6,526.2L1220.7,531.8L1215.8,529.0L1210.9,531.8L1212.0,526.2L1207.8,522.4L1213.4,521.8ZM1222.3,540.1L1224.7,545.3L1230.3,545.9L1226.1,549.7L1227.2,555.3L1222.3,552.5L1217.4,555.3L1218.5,549.7L1214.3,545.9L1219.9,545.3ZM1229.6,560.6L1232.0,565.8L1237.6,566.4L1233.4,570.2L1234.5,575.8L1229.6,573.0L1224.7,575.8L1225.8,570.2L1221.6,566.4L1227.2,565.8ZM1237.5,581.2L1239.9,586.4L1245.5,587.0L1241.3,590.8L1242.4,596.4L1237.5,593.6L1232.6,596.4L1233.7,590.8L1229.5,587.0L1235.1,586.4ZM1245.0,601.6L1247.4,606.8L1253.0,607.4L1248.8,611.2L1249.9,616.8L1245.0,614.0L1240.1,616.8L1241.2,611.2L1237.0,607.4L1242.6,606.8ZM1252.0,619.3L1254.4,624.5L1260.0,625.1L1255.8,628.9L1256.9,634.5L1252.0,631.7L1247.1,634.5L1248.2,628.9L1244.0,625.1L1249.6,624.5ZM1259.8,638.3L1262.2,643.5L1267.8,644.1L1263.6,647.9L1264.7,653.5L1259.8,650.7L1254.9,653.5L1256.0,647.9L1251.8,644.1L1257.4,643.5ZM1267.7,648.6L1270.1,653.8L1275.7,654.4L1271.5,658.2L1272.6,663.8L1267.7,661.0L1262.8,663.8L1263.9,658.2L1259.7,654.4L1265.3,653.8ZM1275.0,669.1L1277.4,674.3L1283.0,674.9L1278.8,678.7L1279.9,684.3L1275.0,681.5L1270.1,684.3L1271.2,678.7L1267.0,674.9L1272.6,674.3ZM1282.4,679.4L1284.8,684.6L1290.4,685.2L1286.2,689.0L1287.3,694.6L1282.4,691.8L1277.5,694.6L1278.6,689.0L1274.4,685.2L1280.0,684.6ZM1291.0,689.6L1293.4,694.8L1299.0,695.4L1294.8,699.2L1295.9,704.8L1291.0,702.0L1286.1,704.8L1287.2,699.2L1283.0,695.4L1288.6,694.8ZM1299.0,695.6L1301.4,700.8L1307.0,701.4L1302.8,705.2L1303.9,710.8L1299.0,708.0L1294.1,710.8L1295.2,705.2L1291.0,701.4L1296.6,700.8ZM1307.3,697.0L1309.7,702.2L1315.3,702.8L1311.1,706.6L1312.2,712.2L1307.3,709.4L1302.4,712.2L1303.5,706.6L1299.3,702.8L1304.9,702.2ZM1316.0,691.1L1318.4,696.3L1324.0,696.9L1319.8,700.7L1320.9,706.3L1316.0,703.5L1311.1,706.3L1312.2,700.7L1308.0,696.9L1313.6,696.3ZM1325.5,680.9L1327.9,686.1L1333.5,686.7L1329.3,690.5L1330.4,696.1L1325.5,693.3L1320.6,696.1L1321.7,690.5L1317.5,686.7L1323.1,686.1ZM1333.7,670.6L1336.1,675.8L1341.7,676.4L1337.5,680.2L1338.6,685.8L1333.7,683.0L1328.8,685.8L1329.9,680.2L1325.7,676.4L1331.3,675.8ZM1342.0,655.9L1344.4,661.1L1350.0,661.7L1345.8,665.5L1346.9,671.1L1342.0,668.3L1337.1,671.1L1338.2,665.5L1334.0,661.7L1339.6,661.1ZM1350.0,635.4L1352.4,640.6L1358.0,641.2L1353.8,645.0L1354.9,650.6L1350.0,647.8L1345.1,650.6L1346.2,645.0L1342.0,641.2L1347.6,640.6ZM1356.6,619.3L1359.0,624.5L1364.6,625.1L1360.4,628.9L1361.5,634.5L1356.6,631.7L1351.7,634.5L1352.8,628.9L1348.6,625.1L1354.2,624.5ZM1364.5,601.6L1366.9,606.8L1372.5,607.4L1368.3,611.2L1369.4,616.8L1364.5,614.0L1359.6,616.8L1360.7,611.2L1356.5,607.4L1362.1,606.8ZM1371.8,575.3L1374.2,580.5L1379.8,581.1L1375.6,584.9L1376.7,590.5L1371.8,587.7L1366.9,590.5L1368.0,584.9L1363.8,581.1L1369.4,580.5ZM1379.0,560.6L1381.4,565.8L1387.0,566.4L1382.8,570.2L1383.9,575.8L1379.0,573.0L1374.1,575.8L1375.2,570.2L1371.0,566.4L1376.6,565.8ZM1386.5,538.6L1388.9,543.8L1394.5,544.4L1390.3,548.2L1391.4,553.8L1386.5,551.0L1381.6,553.8L1382.7,548.2L1378.5,544.4L1384.1,543.8ZM1393.8,516.6L1396.2,521.8L1401.8,522.4L1397.6,526.2L1398.7,531.8L1393.8,529.0L1388.9,531.8L1390.0,526.2L1385.8,522.4L1391.4,521.8ZM1401.0,513.6L1403.4,518.8L1409.0,519.4L1404.8,523.2L1405.9,528.8L1401.0,526.0L1396.1,528.8L1397.2,523.2L1393.0,519.4L1398.6,518.8ZM1408.5,494.6L1410.9,499.8L1416.5,500.4L1412.3,504.2L1413.4,509.8L1408.5,507.0L1403.6,509.8L1404.7,504.2L1400.5,500.4L1406.1,499.8ZM1416.4,477.1L1418.8,482.3L1424.4,482.9L1420.2,486.7L1421.3,492.3L1416.4,489.5L1411.5,492.3L1412.6,486.7L1408.4,482.9L1414.0,482.3ZM1424.6,477.9L1427.0,483.1L1432.6,483.7L1428.4,487.5L1429.5,493.1L1424.6,490.3L1419.7,493.1L1420.8,487.5L1416.6,483.7L1422.2,483.1ZM1432.0,460.9L1434.4,466.1L1440.0,466.7L1435.8,470.5L1436.9,476.1L1432.0,473.3L1427.1,476.1L1428.2,470.5L1424.0,466.7L1429.6,466.1ZM1440.7,466.8L1443.1,472.0L1448.7,472.6L1444.5,476.4L1445.6,482.0L1440.7,479.2L1435.8,482.0L1436.9,476.4L1432.7,472.6L1438.3,472.0ZM1449.5,469.6L1451.9,474.8L1457.5,475.4L1453.3,479.2L1454.4,484.8L1449.5,482.0L1444.6,484.8L1445.7,479.2L1441.5,475.4L1447.1,474.8ZM1456.9,481.6L1459.3,486.8L1464.9,487.4L1460.7,491.2L1461.8,496.8L1456.9,494.0L1452.0,496.8L1453.1,491.2L1448.9,487.4L1454.5,486.8ZM1460.3,482.9L1462.7,488.1L1468.3,488.7L1464.1,492.5L1465.2,498.1L1460.3,495.3L1455.4,498.1L1456.5,492.5L1452.3,488.7L1457.9,488.1ZM1467.6,488.8L1470.0,494.0L1475.6,494.6L1471.4,498.4L1472.5,504.0L1467.6,501.2L1462.7,504.0L1463.8,498.4L1459.6,494.6L1465.2,494.0ZM1475.0,509.3L1477.4,514.5L1483.0,515.1L1478.8,518.9L1479.9,524.5L1475.0,521.7L1470.1,524.5L1471.2,518.9L1467.0,515.1L1472.6,514.5ZM1482.8,526.9L1485.2,532.1L1490.8,532.7L1486.6,536.5L1487.7,542.1L1482.8,539.3L1477.9,542.1L1479.0,536.5L1474.8,532.7L1480.4,532.1ZM1489.6,547.4L1492.0,552.6L1497.6,553.2L1493.4,557.0L1494.5,562.6L1489.6,559.8L1484.7,562.6L1485.8,557.0L1481.6,553.2L1487.2,552.6ZM1497.0,573.8L1499.4,579.0L1505.0,579.6L1500.8,583.4L1501.9,589.0L1497.0,586.2L1492.1,589.0L1493.2,583.4L1489.0,579.6L1494.6,579.0ZM1504.3,587.0L1506.7,592.2L1512.3,592.8L1508.1,596.6L1509.2,602.2L1504.3,599.4L1499.4,602.2L1500.5,596.6L1496.3,592.8L1501.9,592.2ZM1511.6,606.1L1514.0,611.3L1519.6,611.9L1515.4,615.7L1516.5,621.3L1511.6,618.5L1506.7,621.3L1507.8,615.7L1503.6,611.9L1509.2,611.3ZM1519.8,627.6L1522.2,632.8L1527.8,633.4L1523.6,637.2L1524.7,642.8L1519.8,640.0L1514.9,642.8L1516.0,637.2L1511.8,633.4L1517.4,632.8ZM1526.8,644.2L1529.2,649.4L1534.8,650.0L1530.6,653.8L1531.7,659.4L1526.8,656.6L1521.9,659.4L1523.0,653.8L1518.8,650.0L1524.4,649.4ZM1534.5,658.0L1536.9,663.2L1542.5,663.8L1538.3,667.6L1539.4,673.2L1534.5,670.4L1529.6,673.2L1530.7,667.6L1526.5,663.8L1532.1,663.2ZM1542.4,668.6L1544.8,673.8L1550.4,674.4L1546.2,678.2L1547.3,683.8L1542.4,681.0L1537.5,683.8L1538.6,678.2L1534.4,674.4L1540.0,673.8ZM1550.3,686.7L1552.7,691.9L1558.3,692.5L1554.1,696.3L1555.2,701.9L1550.3,699.1L1545.4,701.9L1546.5,696.3L1542.3,692.5L1547.9,691.9ZM1558.5,686.7L1560.9,691.9L1566.5,692.5L1562.3,696.3L1563.4,701.9L1558.5,699.1L1553.6,701.9L1554.7,696.3L1550.5,692.5L1556.1,691.9ZM1566.7,697.0L1569.1,702.2L1574.7,702.8L1570.5,706.6L1571.6,712.2L1566.7,709.4L1561.8,712.2L1562.9,706.6L1558.7,702.8L1564.3,702.2ZM1575.5,694.1L1577.9,699.3L1583.5,699.9L1579.3,703.7L1580.4,709.3L1575.5,706.5L1570.6,709.3L1571.7,703.7L1567.5,699.9L1573.1,699.3ZM1584.3,686.1L1586.7,691.3L1592.3,691.9L1588.1,695.7L1589.2,701.3L1584.3,698.5L1579.4,701.3L1580.5,695.7L1576.3,691.9L1581.9,691.3ZM1593.0,675.0L1595.4,680.2L1601.0,680.8L1596.8,684.6L1597.9,690.2L1593.0,687.4L1588.1,690.2L1589.2,684.6L1585.0,680.8L1590.6,680.2ZM1601.0,674.4L1603.4,679.6L1609.0,680.2L1604.8,684.0L1605.9,689.6L1601.0,686.8L1596.1,689.6L1597.2,684.0L1593.0,680.2L1598.6,679.6ZM1609.0,654.5L1611.4,659.7L1617.0,660.3L1612.8,664.1L1613.9,669.7L1609.0,666.9L1604.1,669.7L1605.2,664.1L1601.0,660.3L1606.6,659.7ZM1616.6,638.3L1619.0,643.5L1624.6,644.1L1620.4,647.9L1621.5,653.5L1616.6,650.7L1611.7,653.5L1612.8,647.9L1608.6,644.1L1614.2,643.5ZM1624.5,620.6L1626.9,625.8L1632.5,626.4L1628.3,630.2L1629.4,635.8L1624.5,633.0L1619.6,635.8L1620.7,630.2L1616.5,626.4L1622.1,625.8ZM1631.2,598.6L1633.6,603.8L1639.2,604.4L1635.0,608.2L1636.1,613.8L1631.2,611.0L1626.3,613.8L1627.4,608.2L1623.2,604.4L1628.8,603.8ZM1638.3,578.2L1640.7,583.4L1646.3,584.0L1642.1,587.8L1643.2,593.4L1638.3,590.6L1633.4,593.4L1634.5,587.8L1630.3,584.0L1635.9,583.4ZM1645.9,558.3L1648.3,563.5L1653.9,564.1L1649.7,567.9L1650.8,573.5L1645.9,570.7L1641.0,573.5L1642.1,567.9L1637.9,564.1L1643.5,563.5ZM1653.0,542.4L1655.4,547.6L1661.0,548.2L1656.8,552.0L1657.9,557.6L1653.0,554.8L1648.1,557.6L1649.2,552.0L1645.0,548.2L1650.6,547.6ZM1660.6,526.9L1663.0,532.1L1668.6,532.7L1664.4,536.5L1665.5,542.1L1660.6,539.3L1655.7,542.1L1656.8,536.5L1652.6,532.7L1658.2,532.1ZM1668.5,510.2L1670.9,515.4L1676.5,516.0L1672.3,519.8L1673.4,525.4L1668.5,522.6L1663.6,525.4L1664.7,519.8L1660.5,516.0L1666.1,515.4ZM1675.8,503.4L1678.2,508.6L1683.8,509.2L1679.6,513.0L1680.7,518.6L1675.8,515.8L1670.9,518.6L1672.0,513.0L1667.8,509.2L1673.4,508.6ZM1684.0,488.8L1686.4,494.0L1692.0,494.6L1687.8,498.4L1688.9,504.0L1684.0,501.2L1679.1,504.0L1680.2,498.4L1676.0,494.6L1681.6,494.0ZM1691.0,481.5L1693.4,486.7L1699.0,487.3L1694.8,491.1L1695.9,496.7L1691.0,493.9L1686.1,496.7L1687.2,491.1L1683.0,487.3L1688.6,486.7ZM1698.7,472.6L1701.1,477.8L1706.7,478.4L1702.5,482.2L1703.6,487.8L1698.7,485.0L1693.8,487.8L1694.9,482.2L1690.7,478.4L1696.3,477.8ZM1706.6,475.6L1709.0,480.8L1714.6,481.4L1710.4,485.2L1711.5,490.8L1706.6,488.0L1701.7,490.8L1702.8,485.2L1698.6,481.4L1704.2,480.8ZM1714.0,475.6L1716.4,480.8L1722.0,481.4L1717.8,485.2L1718.9,490.8L1714.0,488.0L1709.1,490.8L1710.2,485.2L1706.0,481.4L1711.6,480.8ZM1720.4,482.9L1722.8,488.1L1728.4,488.7L1724.2,492.5L1725.3,498.1L1720.4,495.3L1715.5,498.1L1716.6,492.5L1712.4,488.7L1718.0,488.1ZM1725.7,493.2L1728.1,498.4L1733.7,499.0L1729.5,502.8L1730.6,508.4L1725.7,505.6L1720.8,508.4L1721.9,502.8L1717.7,499.0L1723.3,498.4Z" fill="#ff00ff"/>
<path d="M1196.6,319.9L1205.7,329.0L1196.6,338.1L1187.5,329.0ZM1201.0,289.9L1210.1,299.0L1201.0,308.1L1191.9,299.0ZM1207.6,250.6L1216.7,259.7L1207.6,268.8L1198.5,259.7ZM1216.4,215.9L1225.5,225.0L1216.4,234.1L1207.3,225.0ZM1222.0,175.9L1231.1,185.0L1222.0,194.1L1212.9,185.0ZM1229.6,151.6L1238.7,160.7L1229.6,169.8L1220.5,160.7ZM1238.4,132.2L1247.5,141.3L1238.4,150.4L1229.3,141.3ZM1245.0,94.9L1254.1,104.0L1245.0,113.1L1235.9,104.0ZM1252.5,83.9L1261.6,93.0L1252.5,102.1L1243.4,93.0ZM1261.0,68.4L1270.1,77.5L1261.0,86.6L1251.9,77.5ZM1267.0,36.3L1276.1,45.4L1267.0,54.5L1257.9,45.4ZM1274.0,38.9L1283.1,48.0L1274.0,57.1L1264.9,48.0ZM1281.0,42.9L1290.1,52.0L1281.0,61.1L1271.9,52.0ZM1288.0,45.9L1297.1,55.0L1288.0,64.1L1278.9,55.0ZM1294.0,50.9L1303.1,60.0L1294.0,69.1L1284.9,60.0ZM1297.8,74.9L1306.9,84.0L1297.8,93.1L1288.7,84.0ZM1305.0,88.9L1314.1,98.0L1305.0,107.1L1295.9,98.0ZM1312.0,112.4L1321.1,121.5L1312.0,130.6L1302.9,121.5ZM1319.0,138.4L1328.1,147.5L1319.0,156.6L1309.9,147.5ZM1326.4,170.5L1335.5,179.6L1326.4,188.7L1317.3,179.6ZM1335.0,191.6L1344.1,200.7L1335.0,209.8L1325.9,200.7ZM1341.8,234.3L1350.9,243.4L1341.8,252.5L1332.7,243.4ZM1349.0,263.9L1358.1,273.0L1349.0,282.1L1339.9,273.0ZM1357.0,305.9L1366.1,315.0L1357.0,324.1L1347.9,315.0ZM1364.7,343.4L1373.8,352.5L1364.7,361.6L1355.6,352.5ZM1371.0,365.9L1380.1,375.0L1371.0,384.1L1361.9,375.0ZM1379.0,394.9L1388.1,404.0L1379.0,413.1L1369.9,404.0ZM1385.8,407.9L1394.9,417.0L1385.8,426.1L1376.7,417.0ZM1393.5,435.4L1402.6,444.5L1393.5,453.6L1384.4,444.5ZM1402.5,444.4L1411.6,453.5L1402.5,462.6L1393.4,453.5ZM1409.0,450.9L1418.1,460.0L1409.0,469.1L1399.9,460.0ZM1417.0,448.9L1426.1,458.0L1417.0,467.1L1407.9,458.0ZM1422.7,433.9L1431.8,443.0L1422.7,452.1L1413.6,443.0ZM1428.0,427.5L1437.1,436.6L1428.0,445.7L1418.9,436.6ZM1438.5,413.9L1447.6,423.0L1438.5,432.1L1429.4,423.0ZM1445.0,381.9L1454.1,391.0L1445.0,400.1L1435.9,391.0ZM1453.0,363.4L1462.1,372.5L1453.0,381.6L1443.9,372.5ZM1460.5,328.6L1469.6,337.7L1460.5,346.8L1451.4,337.7ZM1467.7,299.9L1476.8,309.0L1467.7,318.1L1458.6,309.0ZM1475.5,265.2L1484.6,274.3L1475.5,283.4L1466.4,274.3ZM1480.0,233.9L1489.1,243.0L1480.0,252.1L1470.9,243.0ZM1490.0,195.9L1499.1,205.0L1490.0,214.1L1480.9,205.0ZM1497.4,177.3L1506.5,186.4L1497.4,195.5L1488.3,186.4ZM1504.8,140.6L1513.9,149.7L1504.8,158.8L1495.7,149.7ZM1512.0,117.4L1521.1,126.5L1512.0,135.6L1502.9,126.5ZM1519.4,99.1L1528.5,108.2L1519.4,117.3L1510.3,108.2ZM1526.8,86.4L1535.9,95.5L1526.8,104.6L1517.7,95.5ZM1536.5,68.6L1545.6,77.7L1536.5,86.8L1527.4,77.7ZM1542.6,57.6L1551.7,66.7L1542.6,75.8L1533.5,66.7ZM1550.0,73.4L1559.1,82.5L1550.0,91.6L1540.9,82.5ZM1556.0,74.9L1565.1,84.0L1556.0,93.1L1546.9,84.0ZM1563.4,77.1L1572.5,86.2L1563.4,95.3L1554.3,86.2ZM1572.0,101.5L1581.1,110.6L1572.0,119.7L1562.9,110.6ZM1578.0,125.9L1587.1,135.0L1578.0,144.1L1568.9,135.0ZM1586.6,149.2L1595.7,158.3L1586.6,167.4L1577.5,158.3ZM1595.2,189.5L1604.3,198.6L1595.2,207.7L1586.1,198.6ZM1602.5,229.6L1611.6,238.7L1602.5,247.8L1593.4,238.7ZM1608.9,256.6L1618.0,265.7L1608.9,274.8L1599.8,265.7ZM1617.2,283.6L1626.3,292.7L1617.2,301.8L1608.1,292.7ZM1623.3,314.4L1632.4,323.5L1623.3,332.6L1614.2,323.5ZM1631.4,343.2L1640.5,352.3L1631.4,361.4L1622.3,352.3ZM1639.0,367.5L1648.1,376.6L1639.0,385.7L1629.9,376.6ZM1645.7,393.9L1654.8,403.0L1645.7,412.1L1636.6,403.0ZM1653.8,416.3L1662.9,425.4L1653.8,434.5L1644.7,425.4ZM1661.0,436.5L1670.1,445.6L1661.0,454.7L1651.9,445.6ZM1669.0,431.9L1678.1,441.0L1669.0,450.1L1659.9,441.0ZM1676.8,451.1L1685.9,460.2L1676.8,469.3L1667.7,460.2ZM1684.6,445.5L1693.7,454.6L1684.6,463.7L1675.5,454.6ZM1691.4,442.1L1700.5,451.2L1691.4,460.3L1682.3,451.2ZM1698.0,418.5L1707.1,427.6L1698.0,436.7L1688.9,427.6ZM1705.0,408.4L1714.1,417.5L1705.0,426.6L1695.9,417.5ZM1714.0,383.7L1723.1,392.8L1714.0,401.9L1704.9,392.8ZM1719.5,356.7L1728.6,365.8L1719.5,374.9L1710.4,365.8ZM1724.0,332.9L1733.1,342.0L1724.0,351.1L1714.9,342.0Z" fill="#00ff00"/>
</g>
</g>
<g>
<line x1="87.00" y1="21.00" x2="1168.00" y2="21.00" stroke="#000" stroke-width="2.2"/>
<line x1="76.00" y1="913.30" x2="1168.00" y2="913.30" stroke="#000" stroke-width="2.2"/>
<line x1="1182.00" y1="21.00" x2="1728.60" y2="21.00" stroke="#000" stroke-width="2.2"/>
<line x1="1182.00" y1="913.30" x2="1728.60" y2="913.30" stroke="#000" stroke-width="2.2"/>
<line x1="88.00" y1="20.00" x2="88.00" y2="918.50" stroke="#000" stroke-width="2.2"/>
<line x1="622.00" y1="20.00" x2="622.00" y2="918.00" stroke="#000" stroke-width="2.2"/>
<line x1="1157.00" y1="20.00" x2="1157.00" y2="918.30" stroke="#000" stroke-width="2.2"/>
<line x1="1193.50" y1="20.00" x2="1193.50" y2="924.50" stroke="#000" stroke-width="2.2"/>
<line x1="1727.60" y1="20.00" x2="1727.60" y2="914.30" stroke="#000" stroke-width="2.2"/>
<line x1="76.00" y1="913.40" x2="88.00" y2="913.40" stroke="#000" stroke-width="2.2"/>
<line x1="81.00" y1="862.33" x2="88.00" y2="862.33" stroke="#000" stroke-width="2.2"/>
<line x1="76.00" y1="811.26" x2="88.00" y2="811.26" stroke="#000" stroke-width="2.2"/>
<line x1="81.00" y1="760.19" x2="88.00" y2="760.19" stroke="#000" stroke-width="2.2"/>
<line x1="76.00" y1="709.12" x2="88.00" y2="709.12" stroke="#000" stroke-width="2.2"/>
<line x1="81.00" y1="658.06" x2="88.00" y2="658.06" stroke="#000" stroke-width="2.2"/>
<line x1="76.00" y1="606.99" x2="88.00" y2="606.99" stroke="#000" stroke-width="2.2"/>
<line x1="81.00" y1="555.92" x2="88.00" y2="555.92" stroke="#000" stroke-width="2.2"/>
<line x1="76.00" y1="504.85" x2="88.00" y2="504.85" stroke="#000" stroke-width="2.2"/>
<line x1="81.00" y1="453.78" x2="88.00" y2="453.78" stroke="#000" stroke-width="2.2"/>
<line x1="76.00" y1="402.71" x2="88.00" y2="402.71" stroke="#000" stroke-width="2.2"/>
<line x1="81.00" y1="351.64" x2="88.00" y2="351.64" stroke="#000" stroke-width="2.2"/>
<line x1="76.00" y1="300.57" x2="88.00" y2="300.57" stroke="#000" stroke-width="2.2"/>
<line x1="81.00" y1="249.51" x2="88.00" y2="249.51" stroke="#000" stroke-width="2.2"/>
<line x1="76.00" y1="198.44" x2="88.00" y2="198.44" stroke="#000" stroke-width="2.2"/>
<line x1="81.00" y1="147.37" x2="88.00" y2="147.37" stroke="#000" stroke-width="2.2"/>
<line x1="76.00" y1="96.30" x2="88.00" y2="96.30" stroke="#000" stroke-width="2.2"/>
<line x1="81.00" y1="45.23" x2="88.00" y2="45.23" stroke="#000" stroke-width="2.2"/>
<line x1="221.50" y1="913.30" x2="221.50" y2="925.00" stroke="#000" stroke-width="2.2"/>
<line x1="221.50" y1="21.00" x2="221.50" y2="30.00" stroke="#000" stroke-width="2.2"/>
<line x1="755.75" y1="913.30" x2="755.75" y2="925.00" stroke="#000" stroke-width="2.2"/>
<line x1="755.75" y1="21.00" x2="755.75" y2="30.00" stroke="#000" stroke-width="2.2"/>
<line x1="488.50" y1="913.30" x2="488.50" y2="925.00" stroke="#000" stroke-width="2.2"/>
<line x1="488.50" y1="21.00" x2="488.50" y2="30.00" stroke="#000" stroke-width="2.2"/>
<line x1="1023.25" y1="913.30" x2="1023.25" y2="925.00" stroke="#000" stroke-width="2.2"/>
<line x1="1023.25" y1="21.00" x2="1023.25" y2="30.00" stroke="#000" stroke-width="2.2"/>
<line x1="355.00" y1="913.30" x2="355.00" y2="918.50" stroke="#000" stroke-width="2.2"/>
<line x1="355.00" y1="21.00" x2="355.00" y2="24.00" stroke="#000" stroke-width="2.2"/>
<line x1="889.50" y1="913.30" x2="889.50" y2="918.50" stroke="#000" stroke-width="2.2"/>
<line x1="889.50" y1="21.00" x2="889.50" y2="24.00" stroke="#000" stroke-width="2.2"/>
<line x1="1157.00" y1="913.00" x2="1168.00" y2="913.00" stroke="#000" stroke-width="2.2"/>
<line x1="1157.00" y1="863.38" x2="1162.00" y2="863.38" stroke="#000" stroke-width="2.2"/>
<line x1="1157.00" y1="813.75" x2="1168.00" y2="813.75" stroke="#000" stroke-width="2.2"/>
<line x1="1157.00" y1="764.12" x2="1162.00" y2="764.12" stroke="#000" stroke-width="2.2"/>
<line x1="1157.00" y1="714.50" x2="1168.00" y2="714.50" stroke="#000" stroke-width="2.2"/>
<line x1="1157.00" y1="664.88" x2="1162.00" y2="664.88" stroke="#000" stroke-width="2.2"/>
<line x1="1157.00" y1="615.25" x2="1168.00" y2="615.25" stroke="#000" stroke-width="2.2"/>
<line x1="1157.00" y1="565.62" x2="1162.00" y2="565.62" stroke="#000" stroke-width="2.2"/>
<line x1="1157.00" y1="516.00" x2="1168.00" y2="516.00" stroke="#000" stroke-width="2.2"/>
<line x1="1157.00" y1="466.38" x2="1162.00" y2="466.38" stroke="#000" stroke-width="2.2"/>
<line x1="1157.00" y1="416.75" x2="1168.00" y2="416.75" stroke="#000" stroke-width="2.2"/>
<line x1="1157.00" y1="367.12" x2="1162.00" y2="367.12" stroke="#000" stroke-width="2.2"/>
<line x1="1157.00" y1="317.50" x2="1168.00" y2="317.50" stroke="#000" stroke-width="2.2"/>
<line x1="1157.00" y1="267.88" x2="1162.00" y2="267.88" stroke="#000" stroke-width="2.2"/>
<line x1="1157.00" y1="218.25" x2="1168.00" y2="218.25" stroke="#000" stroke-width="2.2"/>
<line x1="1157.00" y1="168.62" x2="1162.00" y2="168.62" stroke="#000" stroke-width="2.2"/>
<line x1="1157.00" y1="119.00" x2="1168.00" y2="119.00" stroke="#000" stroke-width="2.2"/>
<line x1="1157.00" y1="69.38" x2="1162.00" y2="69.38" stroke="#000" stroke-width="2.2"/>
<line x1="1186.50" y1="857.45" x2="1193.50" y2="857.45" stroke="#000" stroke-width="2.2"/>
<line x1="1723.00" y1="857.45" x2="1727.60" y2="857.45" stroke="#000" stroke-width="2.2"/>
<line x1="1182.00" y1="801.70" x2="1193.50" y2="801.70" stroke="#000" stroke-width="2.2"/>
<line x1="1718.80" y1="801.70" x2="1727.60" y2="801.70" stroke="#000" stroke-width="2.2"/>
<line x1="1186.50" y1="745.95" x2="1193.50" y2="745.95" stroke="#000" stroke-width="2.2"/>
<line x1="1723.00" y1="745.95" x2="1727.60" y2="745.95" stroke="#000" stroke-width="2.2"/>
<line x1="1182.00" y1="690.20" x2="1193.50" y2="690.20" stroke="#000" stroke-width="2.2"/>
<line x1="1718.80" y1="690.20" x2="1727.60" y2="690.20" stroke="#000" stroke-width="2.2"/>
<line x1="1186.50" y1="634.45" x2="1193.50" y2="634.45" stroke="#000" stroke-width="2.2"/>
<line x1="1723.00" y1="634.45" x2="1727.60" y2="634.45" stroke="#000" stroke-width="2.2"/>
<line x1="1182.00" y1="578.70" x2="1193.50" y2="578.70" stroke="#000" stroke-width="2.2"/>
<line x1="1718.80" y1="578.70" x2="1727.60" y2="578.70" stroke="#000" stroke-width="2.2"/>
<line x1="1186.50" y1="522.95" x2="1193.50" y2="522.95" stroke="#000" stroke-width="2.2"/>
<line x1="1723.00" y1="522.95" x2="1727.60" y2="522.95" stroke="#000" stroke-width="2.2"/>
<line x1="1182.00" y1="467.20" x2="1193.50" y2="467.20" stroke="#000" stroke-width="2.2"/>
<line x1="1718.80" y1="467.20" x2="1727.60" y2="467.20" stroke="#000" stroke-width="2.2"/>
<line x1="1186.50" y1="411.45" x2="1193.50" y2="411.45" stroke="#000" stroke-width="2.2"/>
<line x1="1723.00" y1="411.45" x2="1727.60" y2="411.45" stroke="#000" stroke-width="2.2"/>
<line x1="1182.00" y1="355.70" x2="1193.50" y2="355.70" stroke="#000" stroke-width="2.2"/>
<line x1="1718.80" y1="355.70" x2="1727.60" y2="355.70" stroke="#000" stroke-width="2.2"/>
<line x1="1186.50" y1="299.95" x2="1193.50" y2="299.95" stroke="#000" stroke-width="2.2"/>
<line x1="1723.00" y1="299.95" x2="1727.60" y2="299.95" stroke="#000" stroke-width="2.2"/>
<line x1="1182.00" y1="244.20" x2="1193.50" y2="244.20" stroke="#000" stroke-width="2.2"/>
<line x1="1718.80" y1="244.20" x2="1727.60" y2="244.20" stroke="#000" stroke-width="2.2"/>
<line x1="1186.50" y1="188.45" x2="1193.50" y2="188.45" stroke="#000" stroke-width="2.2"/>
<line x1="1723.00" y1="188.45" x2="1727.60" y2="188.45" stroke="#000" stroke-width="2.2"/>
<line x1="1182.00" y1="132.70" x2="1193.50" y2="132.70" stroke="#000" stroke-width="2.2"/>
<line x1="1718.80" y1="132.70" x2="1727.60" y2="132.70" stroke="#000" stroke-width="2.2"/>
<line x1="1186.50" y1="76.95" x2="1193.50" y2="76.95" stroke="#000" stroke-width="2.2"/>
<line x1="1723.00" y1="76.95" x2="1727.60" y2="76.95" stroke="#000" stroke-width="2.2"/>
<line x1="1342.05" y1="913.30" x2="1342.05" y2="924.50" stroke="#000" stroke-width="2.2"/>
<line x1="1342.05" y1="21.00" x2="1342.05" y2="29.00" stroke="#000" stroke-width="2.2"/>
<line x1="1490.60" y1="913.30" x2="1490.60" y2="924.50" stroke="#000" stroke-width="2.2"/>
<line x1="1490.60" y1="21.00" x2="1490.60" y2="29.00" stroke="#000" stroke-width="2.2"/>
<line x1="1639.15" y1="913.30" x2="1639.15" y2="924.50" stroke="#000" stroke-width="2.2"/>
<line x1="1639.15" y1="21.00" x2="1639.15" y2="29.00" stroke="#000" stroke-width="2.2"/>
<line x1="1267.78" y1="913.30" x2="1267.78" y2="918.50" stroke="#000" stroke-width="2.2"/>
<line x1="1267.78" y1="21.00" x2="1267.78" y2="24.00" stroke="#000" stroke-width="2.2"/>
<line x1="1416.33" y1="913.30" x2="1416.33" y2="918.50" stroke="#000" stroke-width="2.2"/>
<line x1="1416.33" y1="21.00" x2="1416.33" y2="24.00" stroke="#000" stroke-width="2.2"/>
<line x1="1564.88" y1="913.30" x2="1564.88" y2="918.50" stroke="#000" stroke-width="2.2"/>
<line x1="1564.88" y1="21.00" x2="1564.88" y2="24.00" stroke="#000" stroke-width="2.2"/>
<line x1="1713.43" y1="913.30" x2="1713.43" y2="918.50" stroke="#000" stroke-width="2.2"/>
<line x1="1713.43" y1="21.00" x2="1713.43" y2="24.00" stroke="#000" stroke-width="2.2"/>
<line x1="355.3" y1="58.6" x2="437" y2="58.6" stroke="#000000" stroke-width="4.2"/>
<line x1="355.3" y1="105.6" x2="437" y2="105.6" stroke="#ff0000" stroke-width="4.2"/>
<line x1="355.3" y1="151.0" x2="437" y2="151.0" stroke="#00ff00" stroke-width="4.2"/>
<line x1="893.7" y1="58.3" x2="975.5" y2="58.3" stroke="#000000" stroke-width="4.2"/>
<line x1="893.7" y1="107.6" x2="975.5" y2="107.6" stroke="#ff0000" stroke-width="4.2"/>
<line x1="893.7" y1="151.0" x2="975.5" y2="151.0" stroke="#00ff00" stroke-width="4.2"/>
<rect x="1359.9" y="57.9" width="2.2" height="2.2" fill="#0000ff"/>
<rect x="1381.4" y="57.9" width="2.2" height="2.2" fill="#0000ff"/>
<rect x="1419.9" y="57.9" width="2.2" height="2.2" fill="#0000ff"/>
<rect x="1441.9" y="57.9" width="2.2" height="2.2" fill="#0000ff"/>
<circle cx="1411.5" cy="59.0" r="6.5" fill="#0000ff"/>
<rect x="1359.9" y="119.30000000000001" width="2.2" height="2.2" fill="#ff0000"/>
<rect x="1381.4" y="119.30000000000001" width="2.2" height="2.2" fill="#ff0000"/>
<rect x="1419.9" y="119.30000000000001" width="2.2" height="2.2" fill="#ff0000"/>
<rect x="1441.9" y="119.30000000000001" width="2.2" height="2.2" fill="#ff0000"/>
<path d="M1405.5,114.4h12v12h-12Z" fill="#ff0000"/>
<rect x="1359.9" y="181.4" width="2.2" height="2.2" fill="#00ff00"/>
<rect x="1381.4" y="181.4" width="2.2" height="2.2" fill="#00ff00"/>
<rect x="1419.9" y="181.4" width="2.2" height="2.2" fill="#00ff00"/>
<rect x="1441.9" y="181.4" width="2.2" height="2.2" fill="#00ff00"/>
<path d="M1411.5,173.0L1421.0,182.5L1411.5,192.0L1402.0,182.5Z" fill="#00ff00"/>
<rect x="1359.9" y="242.4" width="2.2" height="2.2" fill="#ff00ff"/>
<rect x="1381.4" y="242.4" width="2.2" height="2.2" fill="#ff00ff"/>
<rect x="1419.9" y="242.4" width="2.2" height="2.2" fill="#ff00ff"/>
<rect x="1441.9" y="242.4" width="2.2" height="2.2" fill="#ff00ff"/>
<path d="M1411.5,235.5L1413.5,240.7L1419.1,241.0L1414.7,244.6L1416.2,250.0L1411.5,246.9L1406.8,250.0L1408.3,244.6L1403.9,241.0L1409.5,240.7Z" fill="#ff00ff"/>
</g>
<g font-family="'Liberation Sans', Arial, sans-serif" fill="#000" stroke="#fff" stroke-width="0.5">
<text x="200.0" y="946.8" font-size="24" text-anchor="start" textLength="37.0" lengthAdjust="spacingAndGlyphs">650</text>
<text x="466.7" y="946.8" font-size="24" text-anchor="start" textLength="38.7" lengthAdjust="spacingAndGlyphs">700</text>
<text x="735.0" y="946.8" font-size="24" text-anchor="start" textLength="37.0" lengthAdjust="spacingAndGlyphs">650</text>
<text x="1005.1" y="946.8" font-size="24" text-anchor="start" textLength="35.4" lengthAdjust="spacingAndGlyphs">700</text>
<text x="1324.7" y="946.8" font-size="24" text-anchor="start" textLength="33.5" lengthAdjust="spacingAndGlyphs">100</text>
<text x="1471.2" y="946.8" font-size="24" text-anchor="start" textLength="35.0" lengthAdjust="spacingAndGlyphs">200</text>
<text x="1619.2" y="946.8" font-size="24" text-anchor="start" textLength="37.4" lengthAdjust="spacingAndGlyphs">300</text>
<text x="1186.6" y="946.0" font-size="24" text-anchor="start" textLength="11.0" lengthAdjust="spacingAndGlyphs">0</text>
<text x="1739.2" y="917.8" font-size="24" text-anchor="start" textLength="11.0" lengthAdjust="spacingAndGlyphs">0</text>
<text x="1739.2" y="806.3" font-size="24" text-anchor="start" textLength="11.0" lengthAdjust="spacingAndGlyphs">5</text>
<text x="1739.2" y="694.8" font-size="24" text-anchor="start" textLength="25.0" lengthAdjust="spacingAndGlyphs">10</text>
<text x="1739.2" y="583.3" font-size="24" text-anchor="start" textLength="25.0" lengthAdjust="spacingAndGlyphs">15</text>
<text x="1739.2" y="471.8" font-size="24" text-anchor="start" textLength="25.0" lengthAdjust="spacingAndGlyphs">20</text>
<text x="1739.2" y="360.3" font-size="24" text-anchor="start" textLength="25.0" lengthAdjust="spacingAndGlyphs">25</text>
<text x="1739.2" y="248.8" font-size="24" text-anchor="start" textLength="25.0" lengthAdjust="spacingAndGlyphs">30</text>
<text x="1739.2" y="137.3" font-size="24" text-anchor="start" textLength="25.0" lengthAdjust="spacingAndGlyphs">35</text>
<text x="1739.2" y="25.8" font-size="24" text-anchor="start" textLength="25.0" lengthAdjust="spacingAndGlyphs">40</text>
<text x="233.0" y="997.8" font-size="33" text-anchor="start" textLength="273.0" lengthAdjust="spacingAndGlyphs">Wavelength (nm)</text>
<text x="752.7" y="997.8" font-size="33" text-anchor="start" textLength="273.0" lengthAdjust="spacingAndGlyphs">Wavelength (nm)</text>
<text x="1426.5" y="1002.0" font-size="33" text-anchor="start" textLength="65.5" lengthAdjust="spacingAndGlyphs">θ (°)</text>
<text transform="translate(49.9,557.8) rotate(-90)" font-size="35" textLength="137" lengthAdjust="spacingAndGlyphs">PL (a.u.)</text>
<text transform="translate(1807,558.4) rotate(-90)" font-size="35" textLength="138" lengthAdjust="spacingAndGlyphs">PL (a.u.)</text>
<text x="112.4" y="80.4" font-size="43" text-anchor="start" textLength="57.0" lengthAdjust="spacing">(a)</text>
<text x="632.4" y="80.4" font-size="43" text-anchor="start" textLength="57.0" lengthAdjust="spacing">(b)</text>
<text x="1208.6" y="66.7" font-size="27" text-anchor="start" textLength="33.5" lengthAdjust="spacing">(c)</text>
<text x="441.8" y="70.2" font-size="34" text-anchor="start" textLength="93.0" lengthAdjust="spacingAndGlyphs">θ= 0 °</text>
<text x="441.8" y="117.6" font-size="34" text-anchor="start" textLength="114.0" lengthAdjust="spacingAndGlyphs">θ= 90 °</text>
<text x="442.2" y="162.0" font-size="34" text-anchor="start" textLength="162.9" lengthAdjust="spacingAndGlyphs">Difference</text>
<text x="983.3" y="70.2" font-size="34" text-anchor="start" textLength="93.0" lengthAdjust="spacingAndGlyphs">θ= 0 °</text>
<text x="983.3" y="117.6" font-size="34" text-anchor="start" textLength="114.0" lengthAdjust="spacingAndGlyphs">θ= 90 °</text>
<text x="983.7" y="162.0" font-size="34" text-anchor="start" textLength="162.9" lengthAdjust="spacingAndGlyphs">Difference</text>
</g>
<g font-family="'Liberation Sans', Arial, sans-serif" fill="#000">
<text x="1475.7 1501.8 1527.7 1553.2 1580.5 1601.9 1617.2 1640.9 1668.9" y="73.4" font-size="46">λ=651,3nm</text>
<text x="1475.7 1501.8 1527.7 1552.7 1578.2 1601.9 1616.8 1640.9 1668.9" y="133.2" font-size="46">λ=662,9nm</text>
<text x="1475.7 1501.8 1527.7 1552.7 1579.4 1601.9 1616.7 1640.9 1668.9" y="197.7" font-size="46">λ=664,6nm</text>
<text x="1475.7 1501.8 1527.7 1552.7 1578.7 1601.9 1617.2 1640.9 1668.9" y="257.5" font-size="46">λ=665,0nm</text>
</g>
</svg>
</body></html>
